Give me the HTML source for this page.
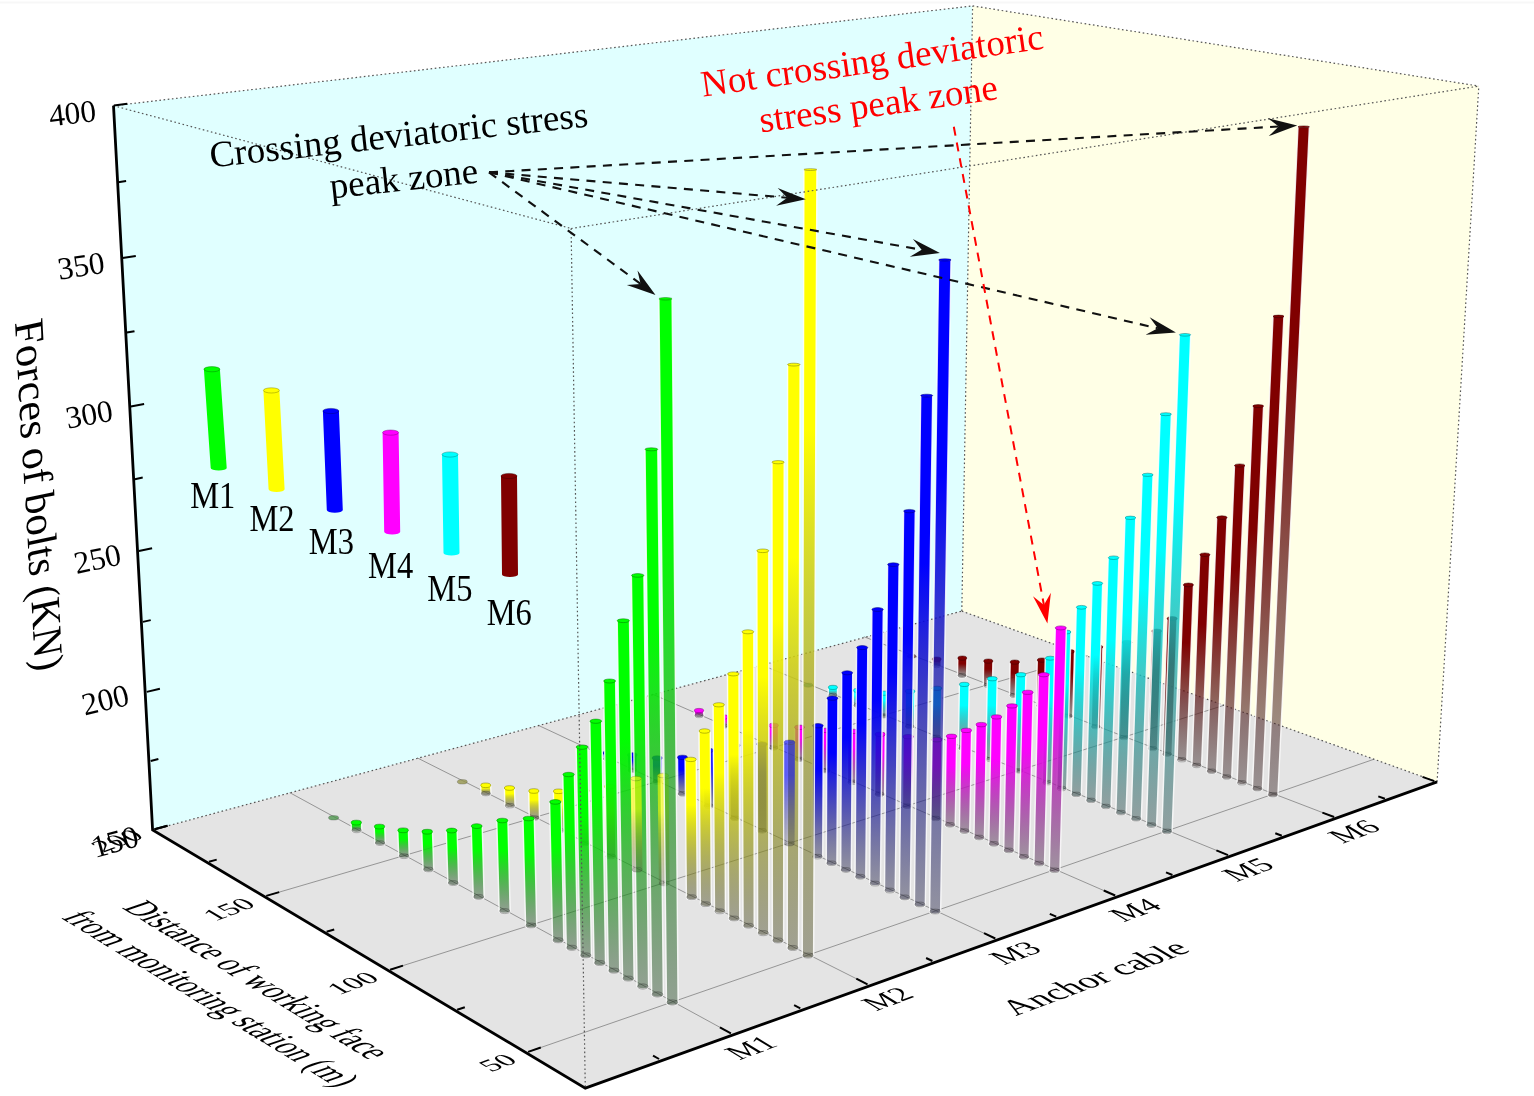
<!DOCTYPE html>
<html><head><meta charset="utf-8"><title>Forces of bolts</title>
<style>html,body{margin:0;padding:0;background:#fff}svg{display:block}text{font-family:"Liberation Serif","Times New Roman",serif}</style>
</head><body>
<svg width="1534" height="1096" viewBox="0 0 1534 1096">
<defs><linearGradient id="g1" gradientUnits="userSpaceOnUse" x1="936.7" y1="659.1" x2="936.7" y2="665.7"><stop offset="0" stop-color="#800000"/><stop offset="0.33" stop-color="#800000"/><stop offset="1" stop-color="#3e2d2d" stop-opacity="0.45"/></linearGradient>
<linearGradient id="g2" gradientUnits="userSpaceOnUse" x1="962.3" y1="658.1" x2="962" y2="675.5"><stop offset="0" stop-color="#800000"/><stop offset="0.33" stop-color="#800000"/><stop offset="1" stop-color="#3e2d2d" stop-opacity="0.45"/></linearGradient>
<linearGradient id="g3" gradientUnits="userSpaceOnUse" x1="988.3" y1="661.1" x2="987.9" y2="685.4"><stop offset="0" stop-color="#800000"/><stop offset="0.33" stop-color="#800000"/><stop offset="1" stop-color="#3e2d2d" stop-opacity="0.45"/></linearGradient>
<linearGradient id="g4" gradientUnits="userSpaceOnUse" x1="1014.8" y1="662.1" x2="1014.1" y2="695.5"><stop offset="0" stop-color="#800000"/><stop offset="0.33" stop-color="#800000"/><stop offset="1" stop-color="#3e2d2d" stop-opacity="0.45"/></linearGradient>
<linearGradient id="g5" gradientUnits="userSpaceOnUse" x1="832.9" y1="687.4" x2="832.9" y2="695.2"><stop offset="0" stop-color="#00ffff"/><stop offset="0.33" stop-color="#00ffff"/><stop offset="1" stop-color="#2d4e4e" stop-opacity="0.45"/></linearGradient>
<linearGradient id="g6" gradientUnits="userSpaceOnUse" x1="1042" y1="660.1" x2="1040.9" y2="705.7"><stop offset="0" stop-color="#800000"/><stop offset="0.33" stop-color="#800000"/><stop offset="1" stop-color="#3e2d2d" stop-opacity="0.45"/></linearGradient>
<linearGradient id="g7" gradientUnits="userSpaceOnUse" x1="858.1" y1="690.4" x2="858" y2="705.4"><stop offset="0" stop-color="#00ffff"/><stop offset="0.33" stop-color="#00ffff"/><stop offset="1" stop-color="#2d4e4e" stop-opacity="0.45"/></linearGradient>
<linearGradient id="g8" gradientUnits="userSpaceOnUse" x1="1069.8" y1="651.5" x2="1068.1" y2="716.1"><stop offset="0" stop-color="#800000"/><stop offset="0.33" stop-color="#800000"/><stop offset="1" stop-color="#3e2d2d" stop-opacity="0.45"/></linearGradient>
<linearGradient id="g9" gradientUnits="userSpaceOnUse" x1="883.8" y1="693.2" x2="883.6" y2="715.9"><stop offset="0" stop-color="#00ffff"/><stop offset="0.33" stop-color="#00ffff"/><stop offset="1" stop-color="#2d4e4e" stop-opacity="0.45"/></linearGradient>
<linearGradient id="g10" gradientUnits="userSpaceOnUse" x1="699" y1="710.5" x2="699.1" y2="715.6"><stop offset="0" stop-color="#ff00ff"/><stop offset="0.33" stop-color="#ff00ff"/><stop offset="1" stop-color="#4e2d4e" stop-opacity="0.45"/></linearGradient>
<linearGradient id="g11" gradientUnits="userSpaceOnUse" x1="1098.1" y1="646.9" x2="1095.8" y2="726.8"><stop offset="0" stop-color="#800000"/><stop offset="0.33" stop-color="#800000"/><stop offset="1" stop-color="#3e2d2d" stop-opacity="0.45"/></linearGradient>
<linearGradient id="g12" gradientUnits="userSpaceOnUse" x1="910.1" y1="691.3" x2="909.7" y2="726.5"><stop offset="0" stop-color="#00ffff"/><stop offset="0.33" stop-color="#00ffff"/><stop offset="1" stop-color="#2d4e4e" stop-opacity="0.45"/></linearGradient>
<linearGradient id="g13" gradientUnits="userSpaceOnUse" x1="723.4" y1="717" x2="723.5" y2="726.2"><stop offset="0" stop-color="#ff00ff"/><stop offset="0.33" stop-color="#ff00ff"/><stop offset="1" stop-color="#4e2d4e" stop-opacity="0.45"/></linearGradient>
<linearGradient id="g14" gradientUnits="userSpaceOnUse" x1="1127" y1="642.3" x2="1124" y2="737.6"><stop offset="0" stop-color="#800000"/><stop offset="0.33" stop-color="#800000"/><stop offset="1" stop-color="#3e2d2d" stop-opacity="0.45"/></linearGradient>
<linearGradient id="g15" gradientUnits="userSpaceOnUse" x1="936.9" y1="688.3" x2="936.2" y2="737.3"><stop offset="0" stop-color="#00ffff"/><stop offset="0.33" stop-color="#00ffff"/><stop offset="1" stop-color="#2d4e4e" stop-opacity="0.45"/></linearGradient>
<linearGradient id="g16" gradientUnits="userSpaceOnUse" x1="748.3" y1="722.7" x2="748.3" y2="737"><stop offset="0" stop-color="#ff00ff"/><stop offset="0.33" stop-color="#ff00ff"/><stop offset="1" stop-color="#4e2d4e" stop-opacity="0.45"/></linearGradient>
<linearGradient id="g17" gradientUnits="userSpaceOnUse" x1="1156.7" y1="631" x2="1152.7" y2="748.6"><stop offset="0" stop-color="#800000"/><stop offset="0.33" stop-color="#800000"/><stop offset="1" stop-color="#3e2d2d" stop-opacity="0.45"/></linearGradient>
<linearGradient id="g18" gradientUnits="userSpaceOnUse" x1="964.3" y1="684.4" x2="963.2" y2="748.3"><stop offset="0" stop-color="#00ffff"/><stop offset="0.33" stop-color="#00ffff"/><stop offset="1" stop-color="#2d4e4e" stop-opacity="0.45"/></linearGradient>
<linearGradient id="g19" gradientUnits="userSpaceOnUse" x1="773.6" y1="725.4" x2="773.6" y2="748"><stop offset="0" stop-color="#ff00ff"/><stop offset="0.33" stop-color="#ff00ff"/><stop offset="1" stop-color="#4e2d4e" stop-opacity="0.45"/></linearGradient>
<linearGradient id="g20" gradientUnits="userSpaceOnUse" x1="1172.1" y1="618.5" x2="1167.2" y2="754.2"><stop offset="0" stop-color="#800000"/><stop offset="0.33" stop-color="#800000"/><stop offset="1" stop-color="#3e2d2d" stop-opacity="0.45"/></linearGradient>
<linearGradient id="g21" gradientUnits="userSpaceOnUse" x1="1188.4" y1="584.9" x2="1181.9" y2="759.8"><stop offset="0" stop-color="#800000"/><stop offset="0.33" stop-color="#800000"/><stop offset="1" stop-color="#3e2d2d" stop-opacity="0.45"/></linearGradient>
<linearGradient id="g22" gradientUnits="userSpaceOnUse" x1="992.3" y1="678.7" x2="990.7" y2="759.5"><stop offset="0" stop-color="#00ffff"/><stop offset="0.33" stop-color="#00ffff"/><stop offset="1" stop-color="#2d4e4e" stop-opacity="0.45"/></linearGradient>
<linearGradient id="g23" gradientUnits="userSpaceOnUse" x1="799.5" y1="727.3" x2="799.4" y2="759.3"><stop offset="0" stop-color="#ff00ff"/><stop offset="0.33" stop-color="#ff00ff"/><stop offset="1" stop-color="#4e2d4e" stop-opacity="0.45"/></linearGradient>
<linearGradient id="g24" gradientUnits="userSpaceOnUse" x1="607.9" y1="752.9" x2="608" y2="759"><stop offset="0" stop-color="#0000ff"/><stop offset="0.33" stop-color="#0000ff"/><stop offset="1" stop-color="#2d2d4e" stop-opacity="0.45"/></linearGradient>
<linearGradient id="g25" gradientUnits="userSpaceOnUse" x1="1204.9" y1="554.7" x2="1196.7" y2="765.5"><stop offset="0" stop-color="#800000"/><stop offset="0.33" stop-color="#800000"/><stop offset="1" stop-color="#3e2d2d" stop-opacity="0.45"/></linearGradient>
<linearGradient id="g26" gradientUnits="userSpaceOnUse" x1="1221.9" y1="517.6" x2="1211.7" y2="771.2"><stop offset="0" stop-color="#800000"/><stop offset="0.33" stop-color="#800000"/><stop offset="1" stop-color="#3e2d2d" stop-opacity="0.45"/></linearGradient>
<linearGradient id="g27" gradientUnits="userSpaceOnUse" x1="1020.9" y1="674.7" x2="1018.7" y2="770.9"><stop offset="0" stop-color="#00ffff"/><stop offset="0.33" stop-color="#00ffff"/><stop offset="1" stop-color="#2d4e4e" stop-opacity="0.45"/></linearGradient>
<linearGradient id="g28" gradientUnits="userSpaceOnUse" x1="825.8" y1="730.4" x2="825.7" y2="770.7"><stop offset="0" stop-color="#ff00ff"/><stop offset="0.33" stop-color="#ff00ff"/><stop offset="1" stop-color="#4e2d4e" stop-opacity="0.45"/></linearGradient>
<linearGradient id="g29" gradientUnits="userSpaceOnUse" x1="632.3" y1="754.9" x2="632.5" y2="770.4"><stop offset="0" stop-color="#0000ff"/><stop offset="0.33" stop-color="#0000ff"/><stop offset="1" stop-color="#2d2d4e" stop-opacity="0.45"/></linearGradient>
<linearGradient id="g30" gradientUnits="userSpaceOnUse" x1="1239.7" y1="465.5" x2="1226.8" y2="777"><stop offset="0" stop-color="#800000"/><stop offset="0.33" stop-color="#800000"/><stop offset="1" stop-color="#3e2d2d" stop-opacity="0.45"/></linearGradient>
<linearGradient id="g31" gradientUnits="userSpaceOnUse" x1="1258.2" y1="406.1" x2="1242" y2="782.8"><stop offset="0" stop-color="#800000"/><stop offset="0.33" stop-color="#800000"/><stop offset="1" stop-color="#3e2d2d" stop-opacity="0.45"/></linearGradient>
<linearGradient id="g32" gradientUnits="userSpaceOnUse" x1="1050.4" y1="658.2" x2="1047.3" y2="782.6"><stop offset="0" stop-color="#00ffff"/><stop offset="0.33" stop-color="#00ffff"/><stop offset="1" stop-color="#2d4e4e" stop-opacity="0.45"/></linearGradient>
<linearGradient id="g33" gradientUnits="userSpaceOnUse" x1="852.7" y1="731.4" x2="852.4" y2="782.3"><stop offset="0" stop-color="#ff00ff"/><stop offset="0.33" stop-color="#ff00ff"/><stop offset="1" stop-color="#4e2d4e" stop-opacity="0.45"/></linearGradient>
<linearGradient id="g34" gradientUnits="userSpaceOnUse" x1="657.1" y1="758" x2="657.4" y2="782"><stop offset="0" stop-color="#0000ff"/><stop offset="0.33" stop-color="#0000ff"/><stop offset="1" stop-color="#2d2d4e" stop-opacity="0.45"/></linearGradient>
<linearGradient id="g35" gradientUnits="userSpaceOnUse" x1="1278.5" y1="316.4" x2="1257.4" y2="788.7"><stop offset="0" stop-color="#800000"/><stop offset="0.33" stop-color="#800000"/><stop offset="1" stop-color="#3e2d2d" stop-opacity="0.45"/></linearGradient>
<linearGradient id="g36" gradientUnits="userSpaceOnUse" x1="1065.8" y1="632" x2="1061.7" y2="788.5"><stop offset="0" stop-color="#00ffff"/><stop offset="0.33" stop-color="#00ffff"/><stop offset="1" stop-color="#2d4e4e" stop-opacity="0.45"/></linearGradient>
<linearGradient id="g37" gradientUnits="userSpaceOnUse" x1="1303.7" y1="126.8" x2="1272.9" y2="794.7"><stop offset="0" stop-color="#800000"/><stop offset="0.33" stop-color="#800000"/><stop offset="1" stop-color="#3e2d2d" stop-opacity="0.45"/></linearGradient>
<linearGradient id="g38" gradientUnits="userSpaceOnUse" x1="1081.5" y1="607.3" x2="1076.3" y2="794.4"><stop offset="0" stop-color="#00ffff"/><stop offset="0.33" stop-color="#00ffff"/><stop offset="1" stop-color="#2d4e4e" stop-opacity="0.45"/></linearGradient>
<linearGradient id="g39" gradientUnits="userSpaceOnUse" x1="880.2" y1="734.3" x2="879.6" y2="794.2"><stop offset="0" stop-color="#ff00ff"/><stop offset="0.33" stop-color="#ff00ff"/><stop offset="1" stop-color="#4e2d4e" stop-opacity="0.45"/></linearGradient>
<linearGradient id="g40" gradientUnits="userSpaceOnUse" x1="682.5" y1="757.4" x2="682.8" y2="793.9"><stop offset="0" stop-color="#0000ff"/><stop offset="0.33" stop-color="#0000ff"/><stop offset="1" stop-color="#2d2d4e" stop-opacity="0.45"/></linearGradient>
<linearGradient id="g41" gradientUnits="userSpaceOnUse" x1="485.7" y1="785.3" x2="485.9" y2="793.6"><stop offset="0" stop-color="#ffff00"/><stop offset="0.33" stop-color="#ffff00"/><stop offset="1" stop-color="#4e4e2d" stop-opacity="0.45"/></linearGradient>
<linearGradient id="g42" gradientUnits="userSpaceOnUse" x1="1097.4" y1="583.4" x2="1091.1" y2="800.4"><stop offset="0" stop-color="#00ffff"/><stop offset="0.33" stop-color="#00ffff"/><stop offset="1" stop-color="#2d4e4e" stop-opacity="0.45"/></linearGradient>
<linearGradient id="g43" gradientUnits="userSpaceOnUse" x1="1113.6" y1="557.7" x2="1106" y2="806.5"><stop offset="0" stop-color="#00ffff"/><stop offset="0.33" stop-color="#00ffff"/><stop offset="1" stop-color="#2d4e4e" stop-opacity="0.45"/></linearGradient>
<linearGradient id="g44" gradientUnits="userSpaceOnUse" x1="908.2" y1="736.7" x2="907.4" y2="806.2"><stop offset="0" stop-color="#ff00ff"/><stop offset="0.33" stop-color="#ff00ff"/><stop offset="1" stop-color="#4e2d4e" stop-opacity="0.45"/></linearGradient>
<linearGradient id="g45" gradientUnits="userSpaceOnUse" x1="708.3" y1="750.4" x2="708.7" y2="806"><stop offset="0" stop-color="#0000ff"/><stop offset="0.33" stop-color="#0000ff"/><stop offset="1" stop-color="#2d2d4e" stop-opacity="0.45"/></linearGradient>
<linearGradient id="g46" gradientUnits="userSpaceOnUse" x1="509.5" y1="788" x2="509.9" y2="805.7"><stop offset="0" stop-color="#ffff00"/><stop offset="0.33" stop-color="#ffff00"/><stop offset="1" stop-color="#4e4e2d" stop-opacity="0.45"/></linearGradient>
<linearGradient id="g47" gradientUnits="userSpaceOnUse" x1="1130.4" y1="517.8" x2="1121" y2="812.6"><stop offset="0" stop-color="#00ffff"/><stop offset="0.33" stop-color="#00ffff"/><stop offset="1" stop-color="#2d4e4e" stop-opacity="0.45"/></linearGradient>
<linearGradient id="g48" gradientUnits="userSpaceOnUse" x1="1147.7" y1="474.8" x2="1136.2" y2="818.8"><stop offset="0" stop-color="#00ffff"/><stop offset="0.33" stop-color="#00ffff"/><stop offset="1" stop-color="#2d4e4e" stop-opacity="0.45"/></linearGradient>
<linearGradient id="g49" gradientUnits="userSpaceOnUse" x1="936.8" y1="739.7" x2="935.7" y2="818.5"><stop offset="0" stop-color="#ff00ff"/><stop offset="0.33" stop-color="#ff00ff"/><stop offset="1" stop-color="#4e2d4e" stop-opacity="0.45"/></linearGradient>
<linearGradient id="g50" gradientUnits="userSpaceOnUse" x1="734.8" y1="745.4" x2="735.1" y2="818.3"><stop offset="0" stop-color="#0000ff"/><stop offset="0.33" stop-color="#0000ff"/><stop offset="1" stop-color="#2d2d4e" stop-opacity="0.45"/></linearGradient>
<linearGradient id="g51" gradientUnits="userSpaceOnUse" x1="533.8" y1="791" x2="534.4" y2="818"><stop offset="0" stop-color="#ffff00"/><stop offset="0.33" stop-color="#ffff00"/><stop offset="1" stop-color="#4e4e2d" stop-opacity="0.45"/></linearGradient>
<linearGradient id="g52" gradientUnits="userSpaceOnUse" x1="1165.8" y1="414.2" x2="1151.5" y2="825.1"><stop offset="0" stop-color="#00ffff"/><stop offset="0.33" stop-color="#00ffff"/><stop offset="1" stop-color="#2d4e4e" stop-opacity="0.45"/></linearGradient>
<linearGradient id="g53" gradientUnits="userSpaceOnUse" x1="951.5" y1="736.3" x2="950.1" y2="824.8"><stop offset="0" stop-color="#ff00ff"/><stop offset="0.33" stop-color="#ff00ff"/><stop offset="1" stop-color="#4e2d4e" stop-opacity="0.45"/></linearGradient>
<linearGradient id="g54" gradientUnits="userSpaceOnUse" x1="1185" y1="334.8" x2="1167" y2="831.4"><stop offset="0" stop-color="#00ffff"/><stop offset="0.33" stop-color="#00ffff"/><stop offset="1" stop-color="#2d4e4e" stop-opacity="0.45"/></linearGradient>
<linearGradient id="g55" gradientUnits="userSpaceOnUse" x1="966.3" y1="730.4" x2="964.5" y2="831.1"><stop offset="0" stop-color="#ff00ff"/><stop offset="0.33" stop-color="#ff00ff"/><stop offset="1" stop-color="#4e2d4e" stop-opacity="0.45"/></linearGradient>
<linearGradient id="g56" gradientUnits="userSpaceOnUse" x1="761.9" y1="744.1" x2="762" y2="830.8"><stop offset="0" stop-color="#0000ff"/><stop offset="0.33" stop-color="#0000ff"/><stop offset="1" stop-color="#2d2d4e" stop-opacity="0.45"/></linearGradient>
<linearGradient id="g57" gradientUnits="userSpaceOnUse" x1="558.6" y1="791.3" x2="559.4" y2="830.6"><stop offset="0" stop-color="#ffff00"/><stop offset="0.33" stop-color="#ffff00"/><stop offset="1" stop-color="#4e4e2d" stop-opacity="0.45"/></linearGradient>
<linearGradient id="g58" gradientUnits="userSpaceOnUse" x1="356.3" y1="822.6" x2="356.6" y2="830.3"><stop offset="0" stop-color="#00ff00"/><stop offset="0.33" stop-color="#00ff00"/><stop offset="1" stop-color="#2d4e2d" stop-opacity="0.45"/></linearGradient>
<linearGradient id="g59" gradientUnits="userSpaceOnUse" x1="981.3" y1="724.6" x2="979.2" y2="837.5"><stop offset="0" stop-color="#ff00ff"/><stop offset="0.33" stop-color="#ff00ff"/><stop offset="1" stop-color="#4e2d4e" stop-opacity="0.45"/></linearGradient>
<linearGradient id="g60" gradientUnits="userSpaceOnUse" x1="996.5" y1="716.9" x2="994" y2="843.9"><stop offset="0" stop-color="#ff00ff"/><stop offset="0.33" stop-color="#ff00ff"/><stop offset="1" stop-color="#4e2d4e" stop-opacity="0.45"/></linearGradient>
<linearGradient id="g61" gradientUnits="userSpaceOnUse" x1="583.9" y1="790.8" x2="584.8" y2="843.4"><stop offset="0" stop-color="#ffff00"/><stop offset="0.33" stop-color="#ffff00"/><stop offset="1" stop-color="#4e4e2d" stop-opacity="0.45"/></linearGradient>
<linearGradient id="g62" gradientUnits="userSpaceOnUse" x1="379.5" y1="826.6" x2="380.1" y2="843.1"><stop offset="0" stop-color="#00ff00"/><stop offset="0.33" stop-color="#00ff00"/><stop offset="1" stop-color="#2d4e2d" stop-opacity="0.45"/></linearGradient>
<linearGradient id="g63" gradientUnits="userSpaceOnUse" x1="1012" y1="705.9" x2="1008.9" y2="850.4"><stop offset="0" stop-color="#ff00ff"/><stop offset="0.33" stop-color="#ff00ff"/><stop offset="1" stop-color="#4e2d4e" stop-opacity="0.45"/></linearGradient>
<linearGradient id="g64" gradientUnits="userSpaceOnUse" x1="1027.7" y1="692.3" x2="1024" y2="856.9"><stop offset="0" stop-color="#ff00ff"/><stop offset="0.33" stop-color="#ff00ff"/><stop offset="1" stop-color="#4e2d4e" stop-opacity="0.45"/></linearGradient>
<linearGradient id="g65" gradientUnits="userSpaceOnUse" x1="817.9" y1="725.7" x2="817.4" y2="856.7"><stop offset="0" stop-color="#0000ff"/><stop offset="0.33" stop-color="#0000ff"/><stop offset="1" stop-color="#2d2d4e" stop-opacity="0.45"/></linearGradient>
<linearGradient id="g66" gradientUnits="userSpaceOnUse" x1="609.7" y1="786.6" x2="610.8" y2="856.4"><stop offset="0" stop-color="#ffff00"/><stop offset="0.33" stop-color="#ffff00"/><stop offset="1" stop-color="#4e4e2d" stop-opacity="0.45"/></linearGradient>
<linearGradient id="g67" gradientUnits="userSpaceOnUse" x1="403.1" y1="830.3" x2="404" y2="856.2"><stop offset="0" stop-color="#00ff00"/><stop offset="0.33" stop-color="#00ff00"/><stop offset="1" stop-color="#2d4e2d" stop-opacity="0.45"/></linearGradient>
<linearGradient id="g68" gradientUnits="userSpaceOnUse" x1="1043.8" y1="674.7" x2="1039.2" y2="863.6"><stop offset="0" stop-color="#ff00ff"/><stop offset="0.33" stop-color="#ff00ff"/><stop offset="1" stop-color="#4e2d4e" stop-opacity="0.45"/></linearGradient>
<linearGradient id="g69" gradientUnits="userSpaceOnUse" x1="832.4" y1="698.2" x2="831.6" y2="863.3"><stop offset="0" stop-color="#0000ff"/><stop offset="0.33" stop-color="#0000ff"/><stop offset="1" stop-color="#2d2d4e" stop-opacity="0.45"/></linearGradient>
<linearGradient id="g70" gradientUnits="userSpaceOnUse" x1="1060.8" y1="627.9" x2="1054.6" y2="870.3"><stop offset="0" stop-color="#ff00ff"/><stop offset="0.33" stop-color="#ff00ff"/><stop offset="1" stop-color="#4e2d4e" stop-opacity="0.45"/></linearGradient>
<linearGradient id="g71" gradientUnits="userSpaceOnUse" x1="847.2" y1="672.8" x2="846" y2="870"><stop offset="0" stop-color="#0000ff"/><stop offset="0.33" stop-color="#0000ff"/><stop offset="1" stop-color="#2d2d4e" stop-opacity="0.45"/></linearGradient>
<linearGradient id="g72" gradientUnits="userSpaceOnUse" x1="427.2" y1="831.7" x2="428.4" y2="869.5"><stop offset="0" stop-color="#00ff00"/><stop offset="0.33" stop-color="#00ff00"/><stop offset="1" stop-color="#2d4e2d" stop-opacity="0.45"/></linearGradient>
<linearGradient id="g73" gradientUnits="userSpaceOnUse" x1="862.2" y1="647.6" x2="860.4" y2="876.8"><stop offset="0" stop-color="#0000ff"/><stop offset="0.33" stop-color="#0000ff"/><stop offset="1" stop-color="#2d2d4e" stop-opacity="0.45"/></linearGradient>
<linearGradient id="g74" gradientUnits="userSpaceOnUse" x1="877.6" y1="609.5" x2="875.1" y2="883.6"><stop offset="0" stop-color="#0000ff"/><stop offset="0.33" stop-color="#0000ff"/><stop offset="1" stop-color="#2d2d4e" stop-opacity="0.45"/></linearGradient>
<linearGradient id="g75" gradientUnits="userSpaceOnUse" x1="451.7" y1="830.5" x2="453.3" y2="883.1"><stop offset="0" stop-color="#00ff00"/><stop offset="0.33" stop-color="#00ff00"/><stop offset="1" stop-color="#2d4e2d" stop-opacity="0.45"/></linearGradient>
<linearGradient id="g76" gradientUnits="userSpaceOnUse" x1="893.3" y1="564.6" x2="889.9" y2="890.5"><stop offset="0" stop-color="#0000ff"/><stop offset="0.33" stop-color="#0000ff"/><stop offset="1" stop-color="#2d2d4e" stop-opacity="0.45"/></linearGradient>
<linearGradient id="g77" gradientUnits="userSpaceOnUse" x1="909.4" y1="511.1" x2="904.8" y2="897.4"><stop offset="0" stop-color="#0000ff"/><stop offset="0.33" stop-color="#0000ff"/><stop offset="1" stop-color="#2d2d4e" stop-opacity="0.45"/></linearGradient>
<linearGradient id="g78" gradientUnits="userSpaceOnUse" x1="690.7" y1="759.4" x2="691.8" y2="897.2"><stop offset="0" stop-color="#ffff00"/><stop offset="0.33" stop-color="#ffff00"/><stop offset="1" stop-color="#4e4e2d" stop-opacity="0.45"/></linearGradient>
<linearGradient id="g79" gradientUnits="userSpaceOnUse" x1="476.7" y1="826.1" x2="478.7" y2="896.9"><stop offset="0" stop-color="#00ff00"/><stop offset="0.33" stop-color="#00ff00"/><stop offset="1" stop-color="#2d4e2d" stop-opacity="0.45"/></linearGradient>
<linearGradient id="g80" gradientUnits="userSpaceOnUse" x1="926.7" y1="395.6" x2="919.9" y2="904.5"><stop offset="0" stop-color="#0000ff"/><stop offset="0.33" stop-color="#0000ff"/><stop offset="1" stop-color="#2d2d4e" stop-opacity="0.45"/></linearGradient>
<linearGradient id="g81" gradientUnits="userSpaceOnUse" x1="704.6" y1="731" x2="705.8" y2="904.2"><stop offset="0" stop-color="#ffff00"/><stop offset="0.33" stop-color="#ffff00"/><stop offset="1" stop-color="#4e4e2d" stop-opacity="0.45"/></linearGradient>
<linearGradient id="g82" gradientUnits="userSpaceOnUse" x1="944.9" y1="259.9" x2="935.1" y2="911.6"><stop offset="0" stop-color="#0000ff"/><stop offset="0.33" stop-color="#0000ff"/><stop offset="1" stop-color="#2d2d4e" stop-opacity="0.45"/></linearGradient>
<linearGradient id="g83" gradientUnits="userSpaceOnUse" x1="718.8" y1="704.8" x2="719.9" y2="911.3"><stop offset="0" stop-color="#ffff00"/><stop offset="0.33" stop-color="#ffff00"/><stop offset="1" stop-color="#4e4e2d" stop-opacity="0.45"/></linearGradient>
<linearGradient id="g84" gradientUnits="userSpaceOnUse" x1="502.3" y1="820.5" x2="504.7" y2="911.1"><stop offset="0" stop-color="#00ff00"/><stop offset="0.33" stop-color="#00ff00"/><stop offset="1" stop-color="#2d4e2d" stop-opacity="0.45"/></linearGradient>
<linearGradient id="g85" gradientUnits="userSpaceOnUse" x1="733.3" y1="673.9" x2="734.2" y2="918.5"><stop offset="0" stop-color="#ffff00"/><stop offset="0.33" stop-color="#ffff00"/><stop offset="1" stop-color="#4e4e2d" stop-opacity="0.45"/></linearGradient>
<linearGradient id="g86" gradientUnits="userSpaceOnUse" x1="747.9" y1="631.8" x2="748.7" y2="925.8"><stop offset="0" stop-color="#ffff00"/><stop offset="0.33" stop-color="#ffff00"/><stop offset="1" stop-color="#4e4e2d" stop-opacity="0.45"/></linearGradient>
<linearGradient id="g87" gradientUnits="userSpaceOnUse" x1="528.7" y1="818.5" x2="531.1" y2="925.5"><stop offset="0" stop-color="#00ff00"/><stop offset="0.33" stop-color="#00ff00"/><stop offset="1" stop-color="#2d4e2d" stop-opacity="0.45"/></linearGradient>
<linearGradient id="g88" gradientUnits="userSpaceOnUse" x1="762.8" y1="550.8" x2="763.3" y2="933.1"><stop offset="0" stop-color="#ffff00"/><stop offset="0.33" stop-color="#ffff00"/><stop offset="1" stop-color="#4e4e2d" stop-opacity="0.45"/></linearGradient>
<linearGradient id="g89" gradientUnits="userSpaceOnUse" x1="778.1" y1="462.2" x2="778" y2="940.5"><stop offset="0" stop-color="#ffff00"/><stop offset="0.33" stop-color="#ffff00"/><stop offset="1" stop-color="#4e4e2d" stop-opacity="0.45"/></linearGradient>
<linearGradient id="g90" gradientUnits="userSpaceOnUse" x1="555.3" y1="801.9" x2="558.2" y2="940.3"><stop offset="0" stop-color="#00ff00"/><stop offset="0.33" stop-color="#00ff00"/><stop offset="1" stop-color="#2d4e2d" stop-opacity="0.45"/></linearGradient>
<linearGradient id="g91" gradientUnits="userSpaceOnUse" x1="793.8" y1="364.6" x2="792.9" y2="948"><stop offset="0" stop-color="#ffff00"/><stop offset="0.33" stop-color="#ffff00"/><stop offset="1" stop-color="#4e4e2d" stop-opacity="0.45"/></linearGradient>
<linearGradient id="g92" gradientUnits="userSpaceOnUse" x1="568.6" y1="774.5" x2="571.9" y2="947.8"><stop offset="0" stop-color="#00ff00"/><stop offset="0.33" stop-color="#00ff00"/><stop offset="1" stop-color="#2d4e2d" stop-opacity="0.45"/></linearGradient>
<linearGradient id="g93" gradientUnits="userSpaceOnUse" x1="789.5" y1="742.3" x2="789.4" y2="843.6"><stop offset="0" stop-color="#0000ff"/><stop offset="0.33" stop-color="#0000ff"/><stop offset="1" stop-color="#2d2d4e" stop-opacity="0.45"/></linearGradient>
<linearGradient id="g94" gradientUnits="userSpaceOnUse" x1="810.4" y1="169.6" x2="808" y2="955.6"><stop offset="0" stop-color="#ffff00"/><stop offset="0.33" stop-color="#ffff00"/><stop offset="1" stop-color="#4e4e2d" stop-opacity="0.45"/></linearGradient>
<linearGradient id="g95" gradientUnits="userSpaceOnUse" x1="582" y1="747.1" x2="585.8" y2="955.4"><stop offset="0" stop-color="#00ff00"/><stop offset="0.33" stop-color="#00ff00"/><stop offset="1" stop-color="#2d4e2d" stop-opacity="0.45"/></linearGradient>
<linearGradient id="g96" gradientUnits="userSpaceOnUse" x1="595.8" y1="721.2" x2="599.8" y2="963"><stop offset="0" stop-color="#00ff00"/><stop offset="0.33" stop-color="#00ff00"/><stop offset="1" stop-color="#2d4e2d" stop-opacity="0.45"/></linearGradient>
<linearGradient id="g97" gradientUnits="userSpaceOnUse" x1="609.6" y1="681" x2="614" y2="970.7"><stop offset="0" stop-color="#00ff00"/><stop offset="0.33" stop-color="#00ff00"/><stop offset="1" stop-color="#2d4e2d" stop-opacity="0.45"/></linearGradient>
<linearGradient id="g98" gradientUnits="userSpaceOnUse" x1="623.3" y1="620.7" x2="628.3" y2="978.6"><stop offset="0" stop-color="#00ff00"/><stop offset="0.33" stop-color="#00ff00"/><stop offset="1" stop-color="#2d4e2d" stop-opacity="0.45"/></linearGradient>
<linearGradient id="g99" gradientUnits="userSpaceOnUse" x1="637.7" y1="575.4" x2="642.8" y2="986.5"><stop offset="0" stop-color="#00ff00"/><stop offset="0.33" stop-color="#00ff00"/><stop offset="1" stop-color="#2d4e2d" stop-opacity="0.45"/></linearGradient>
<linearGradient id="g100" gradientUnits="userSpaceOnUse" x1="636" y1="778.5" x2="637.2" y2="869.7"><stop offset="0" stop-color="#ffff00"/><stop offset="0.33" stop-color="#ffff00"/><stop offset="1" stop-color="#4e4e2d" stop-opacity="0.45"/></linearGradient>
<linearGradient id="g101" gradientUnits="userSpaceOnUse" x1="651.4" y1="449.3" x2="657.5" y2="994.5"><stop offset="0" stop-color="#00ff00"/><stop offset="0.33" stop-color="#00ff00"/><stop offset="1" stop-color="#2d4e2d" stop-opacity="0.45"/></linearGradient>
<linearGradient id="g102" gradientUnits="userSpaceOnUse" x1="663.1" y1="775.5" x2="664.2" y2="883.3"><stop offset="0" stop-color="#ffff00"/><stop offset="0.33" stop-color="#ffff00"/><stop offset="1" stop-color="#4e4e2d" stop-opacity="0.45"/></linearGradient>
<linearGradient id="g103" gradientUnits="userSpaceOnUse" x1="665.5" y1="298.8" x2="672.3" y2="1002.5"><stop offset="0" stop-color="#00ff00"/><stop offset="0.33" stop-color="#00ff00"/><stop offset="1" stop-color="#2d4e2d" stop-opacity="0.45"/></linearGradient></defs>
<rect x="0" y="1.5" width="1534" height="2" fill="#f7f7f7"/>
<polygon points="152.6,830 113.5,105.7 972.6,5.9 961.8,611.1" fill="#e0ffff"/>
<polygon points="961.8,611.1 972.6,5.9 1478.8,86.1 1437.1,781.9" fill="#ffffe6"/>
<polygon points="152.6,830 961.8,611.1 1437.1,781.9 585.3,1088.1" fill="#e4e4e4"/>
<g stroke="#444" stroke-width="0.9" stroke-opacity="0.55">
<line x1="730.9" y1="1033.3" x2="289.7" y2="792.6"/>
<line x1="867.5" y1="984.3" x2="417.3" y2="757.9"/>
<line x1="995.3" y1="938.5" x2="538" y2="725.2"/>
<line x1="1115.2" y1="895.5" x2="652.3" y2="694.1"/>
<line x1="1228" y1="855.1" x2="760.8" y2="664.7"/>
<line x1="1334.1" y1="817" x2="863.8" y2="636.7"/>
<line x1="528.1" y1="1051.9" x2="1373.8" y2="759.3"/>
<line x1="390.1" y1="969.7" x2="1224.4" y2="705.2"/>
<line x1="266.3" y1="895.9" x2="1087.6" y2="655.6"/>
</g>
<line x1="152.6" y1="830" x2="961.8" y2="611.1" stroke="#555" stroke-width="1.2" stroke-dasharray="1.6 2.6" fill="none"/>
<line x1="961.8" y1="611.1" x2="1437.1" y2="781.9" stroke="#555" stroke-width="1.2" stroke-dasharray="1.6 2.6" fill="none"/>
<line x1="961.8" y1="611.1" x2="972.6" y2="5.9" stroke="#555" stroke-width="1.2" stroke-dasharray="1.6 2.6" fill="none"/>
<line x1="113.5" y1="105.7" x2="972.6" y2="5.9" stroke="#555" stroke-width="1.2" stroke-dasharray="1.6 2.6" fill="none"/>
<line x1="972.6" y1="5.9" x2="1478.8" y2="86.1" stroke="#555" stroke-width="1.2" stroke-dasharray="1.6 2.6" fill="none"/>
<line x1="1437.1" y1="781.9" x2="1478.8" y2="86.1" stroke="#555" stroke-width="1.2" stroke-dasharray="1.6 2.6" fill="none"/>
<ellipse cx="911.7" cy="656.2" rx="4.5" ry="2" fill="#6c4646" fill-opacity="0.75" stroke="#333" stroke-opacity="0.4" stroke-width="0.6"/>
<path d="M932.2 659.1 L941.2 659.1 L941.1 665.7 A4.5 2.1 0 0 1 932.2 665.7 Z" fill="url(#g1)" stroke="#fff" stroke-opacity="0.85" stroke-width="1.4"/>
<ellipse cx="936.7" cy="665.7" rx="4" ry="2.1" fill="#000" fill-opacity="0.12" stroke="#222" stroke-opacity="0.45" stroke-width="0.7"/>
<ellipse cx="936.7" cy="659.1" rx="4.5" ry="2.1" fill="#800000" stroke="#3a0000" stroke-opacity="0.7" stroke-width="0.7"/>
<path d="M957.8 658.1 L966.9 658.1 L966.6 675.5 A4.5 2.1 0 0 1 957.5 675.5 Z" fill="url(#g2)" stroke="#fff" stroke-opacity="0.85" stroke-width="1.4"/>
<ellipse cx="962" cy="675.5" rx="4" ry="2.1" fill="#000" fill-opacity="0.12" stroke="#222" stroke-opacity="0.45" stroke-width="0.7"/>
<ellipse cx="962.3" cy="658.1" rx="4.5" ry="2.1" fill="#800000" stroke="#3a0000" stroke-opacity="0.7" stroke-width="0.7"/>
<path d="M983.7 661.1 L992.9 661.1 L992.4 685.4 A4.6 2.1 0 0 1 983.3 685.4 Z" fill="url(#g3)" stroke="#fff" stroke-opacity="0.85" stroke-width="1.4"/>
<ellipse cx="987.9" cy="685.4" rx="4.1" ry="2.1" fill="#000" fill-opacity="0.12" stroke="#222" stroke-opacity="0.45" stroke-width="0.7"/>
<ellipse cx="988.3" cy="661.1" rx="4.6" ry="2.1" fill="#800000" stroke="#3a0000" stroke-opacity="0.7" stroke-width="0.7"/>
<ellipse cx="808.2" cy="685.1" rx="4.6" ry="2.1" fill="#469292" fill-opacity="0.75" stroke="#333" stroke-opacity="0.4" stroke-width="0.6"/>
<path d="M1010.2 662.1 L1019.5 662.1 L1018.7 695.5 A4.6 2.1 0 0 1 1009.5 695.5 Z" fill="url(#g4)" stroke="#fff" stroke-opacity="0.85" stroke-width="1.4"/>
<ellipse cx="1014.1" cy="695.5" rx="4.1" ry="2.1" fill="#000" fill-opacity="0.12" stroke="#222" stroke-opacity="0.45" stroke-width="0.7"/>
<ellipse cx="1014.8" cy="662.1" rx="4.6" ry="2.1" fill="#800000" stroke="#3a0000" stroke-opacity="0.7" stroke-width="0.7"/>
<path d="M828.3 687.4 L837.5 687.4 L837.5 695.2 A4.6 2.1 0 0 1 828.3 695.2 Z" fill="url(#g5)" stroke="#fff" stroke-opacity="0.85" stroke-width="1.4"/>
<ellipse cx="832.9" cy="695.2" rx="4.1" ry="2.1" fill="#000" fill-opacity="0.12" stroke="#222" stroke-opacity="0.45" stroke-width="0.7"/>
<ellipse cx="832.9" cy="687.4" rx="4.6" ry="2.1" fill="#00ffff" stroke="#007373" stroke-opacity="0.7" stroke-width="0.7"/>
<path d="M1037.3 660.1 L1046.7 660.1 L1045.5 705.7 A4.6 2.1 0 0 1 1036.2 705.7 Z" fill="url(#g6)" stroke="#fff" stroke-opacity="0.85" stroke-width="1.4"/>
<ellipse cx="1040.9" cy="705.7" rx="4.1" ry="2.1" fill="#000" fill-opacity="0.12" stroke="#222" stroke-opacity="0.45" stroke-width="0.7"/>
<ellipse cx="1042" cy="660.1" rx="4.7" ry="2.1" fill="#800000" stroke="#3a0000" stroke-opacity="0.7" stroke-width="0.7"/>
<path d="M853.5 690.4 L862.8 690.4 L862.7 705.4 A4.6 2.1 0 0 1 853.4 705.4 Z" fill="url(#g7)" stroke="#fff" stroke-opacity="0.85" stroke-width="1.4"/>
<ellipse cx="858" cy="705.4" rx="4.1" ry="2.1" fill="#000" fill-opacity="0.12" stroke="#222" stroke-opacity="0.45" stroke-width="0.7"/>
<ellipse cx="858.1" cy="690.4" rx="4.7" ry="2.1" fill="#00ffff" stroke="#007373" stroke-opacity="0.7" stroke-width="0.7"/>
<path d="M1065 651.5 L1074.5 651.5 L1072.8 716.1 A4.7 2.2 0 0 1 1063.4 716.1 Z" fill="url(#g8)" stroke="#fff" stroke-opacity="0.85" stroke-width="1.4"/>
<ellipse cx="1068.1" cy="716.1" rx="4.2" ry="2.2" fill="#000" fill-opacity="0.12" stroke="#222" stroke-opacity="0.45" stroke-width="0.7"/>
<ellipse cx="1069.8" cy="651.5" rx="4.8" ry="2" fill="#800000" stroke="#3a0000" stroke-opacity="0.7" stroke-width="0.7"/>
<path d="M879.1 693.2 L888.6 693.2 L888.3 715.9 A4.7 2.2 0 0 1 878.9 715.9 Z" fill="url(#g9)" stroke="#fff" stroke-opacity="0.85" stroke-width="1.4"/>
<ellipse cx="883.6" cy="715.9" rx="4.2" ry="2.2" fill="#000" fill-opacity="0.12" stroke="#222" stroke-opacity="0.45" stroke-width="0.7"/>
<ellipse cx="883.8" cy="693.2" rx="4.7" ry="2.1" fill="#00ffff" stroke="#007373" stroke-opacity="0.7" stroke-width="0.7"/>
<path d="M694.3 710.5 L703.7 710.5 L703.8 715.6 A4.7 2.2 0 0 1 694.4 715.6 Z" fill="url(#g10)" stroke="#fff" stroke-opacity="0.85" stroke-width="1.4"/>
<ellipse cx="699.1" cy="715.6" rx="4.2" ry="2.2" fill="#000" fill-opacity="0.12" stroke="#222" stroke-opacity="0.45" stroke-width="0.7"/>
<ellipse cx="699" cy="710.5" rx="4.7" ry="2.1" fill="#ff00ff" stroke="#730073" stroke-opacity="0.7" stroke-width="0.7"/>
<path d="M1093.3 646.9 L1102.9 646.9 L1100.5 726.8 A4.7 2.2 0 0 1 1091.1 726.8 Z" fill="url(#g11)" stroke="#fff" stroke-opacity="0.85" stroke-width="1.4"/>
<ellipse cx="1095.8" cy="726.8" rx="4.2" ry="2.2" fill="#000" fill-opacity="0.12" stroke="#222" stroke-opacity="0.45" stroke-width="0.7"/>
<ellipse cx="1098.1" cy="646.9" rx="4.8" ry="2" fill="#800000" stroke="#3a0000" stroke-opacity="0.7" stroke-width="0.7"/>
<path d="M905.3 691.3 L914.9 691.3 L914.4 726.5 A4.7 2.2 0 0 1 904.9 726.5 Z" fill="url(#g12)" stroke="#fff" stroke-opacity="0.85" stroke-width="1.4"/>
<ellipse cx="909.7" cy="726.5" rx="4.2" ry="2.2" fill="#000" fill-opacity="0.12" stroke="#222" stroke-opacity="0.45" stroke-width="0.7"/>
<ellipse cx="910.1" cy="691.3" rx="4.8" ry="2.1" fill="#00ffff" stroke="#007373" stroke-opacity="0.7" stroke-width="0.7"/>
<path d="M718.7 717 L728.2 717 L728.2 726.2 A4.7 2.2 0 0 1 718.8 726.2 Z" fill="url(#g13)" stroke="#fff" stroke-opacity="0.85" stroke-width="1.4"/>
<ellipse cx="723.5" cy="726.2" rx="4.2" ry="2.2" fill="#000" fill-opacity="0.12" stroke="#222" stroke-opacity="0.45" stroke-width="0.7"/>
<ellipse cx="723.4" cy="717" rx="4.7" ry="2.2" fill="#ff00ff" stroke="#730073" stroke-opacity="0.7" stroke-width="0.7"/>
<path d="M1122.1 642.3 L1131.9 642.3 L1128.8 737.6 A4.8 2.2 0 0 1 1119.2 737.6 Z" fill="url(#g14)" stroke="#fff" stroke-opacity="0.85" stroke-width="1.4"/>
<ellipse cx="1124" cy="737.6" rx="4.3" ry="2.2" fill="#000" fill-opacity="0.12" stroke="#222" stroke-opacity="0.45" stroke-width="0.7"/>
<ellipse cx="1127" cy="642.3" rx="4.9" ry="2" fill="#800000" stroke="#3a0000" stroke-opacity="0.7" stroke-width="0.7"/>
<path d="M932.1 688.3 L941.7 688.3 L941 737.3 A4.8 2.2 0 0 1 931.4 737.3 Z" fill="url(#g15)" stroke="#fff" stroke-opacity="0.85" stroke-width="1.4"/>
<ellipse cx="936.2" cy="737.3" rx="4.3" ry="2.2" fill="#000" fill-opacity="0.12" stroke="#222" stroke-opacity="0.45" stroke-width="0.7"/>
<ellipse cx="936.9" cy="688.3" rx="4.8" ry="2.1" fill="#00ffff" stroke="#007373" stroke-opacity="0.7" stroke-width="0.7"/>
<path d="M743.5 722.7 L753.1 722.7 L753.1 737 A4.8 2.2 0 0 1 743.6 737 Z" fill="url(#g16)" stroke="#fff" stroke-opacity="0.85" stroke-width="1.4"/>
<ellipse cx="748.3" cy="737" rx="4.3" ry="2.2" fill="#000" fill-opacity="0.12" stroke="#222" stroke-opacity="0.45" stroke-width="0.7"/>
<ellipse cx="748.3" cy="722.7" rx="4.8" ry="2.2" fill="#ff00ff" stroke="#730073" stroke-opacity="0.7" stroke-width="0.7"/>
<path d="M1151.8 631 L1161.7 631 L1157.5 748.6 A4.8 2.2 0 0 1 1147.9 748.6 Z" fill="url(#g17)" stroke="#fff" stroke-opacity="0.85" stroke-width="1.4"/>
<ellipse cx="1152.7" cy="748.6" rx="4.3" ry="2.2" fill="#000" fill-opacity="0.12" stroke="#222" stroke-opacity="0.45" stroke-width="0.7"/>
<ellipse cx="1156.7" cy="631" rx="4.9" ry="2" fill="#800000" stroke="#3a0000" stroke-opacity="0.7" stroke-width="0.7"/>
<path d="M959.4 684.4 L969.2 684.4 L968 748.3 A4.8 2.2 0 0 1 958.4 748.3 Z" fill="url(#g18)" stroke="#fff" stroke-opacity="0.85" stroke-width="1.4"/>
<ellipse cx="963.2" cy="748.3" rx="4.3" ry="2.2" fill="#000" fill-opacity="0.12" stroke="#222" stroke-opacity="0.45" stroke-width="0.7"/>
<ellipse cx="964.3" cy="684.4" rx="4.9" ry="2.1" fill="#00ffff" stroke="#007373" stroke-opacity="0.7" stroke-width="0.7"/>
<path d="M768.8 725.4 L778.5 725.4 L778.5 748 A4.8 2.2 0 0 1 768.8 748 Z" fill="url(#g19)" stroke="#fff" stroke-opacity="0.85" stroke-width="1.4"/>
<ellipse cx="773.6" cy="748" rx="4.3" ry="2.2" fill="#000" fill-opacity="0.12" stroke="#222" stroke-opacity="0.45" stroke-width="0.7"/>
<ellipse cx="773.6" cy="725.4" rx="4.8" ry="2.2" fill="#ff00ff" stroke="#730073" stroke-opacity="0.7" stroke-width="0.7"/>
<ellipse cx="584" cy="747.8" rx="4.8" ry="2.2" fill="#464692" fill-opacity="0.75" stroke="#333" stroke-opacity="0.4" stroke-width="0.6"/>
<path d="M1167.1 618.5 L1177.1 618.5 L1172.1 754.2 A4.8 2.2 0 0 1 1162.4 754.2 Z" fill="url(#g20)" stroke="#fff" stroke-opacity="0.85" stroke-width="1.4"/>
<ellipse cx="1167.2" cy="754.2" rx="4.3" ry="2.2" fill="#000" fill-opacity="0.12" stroke="#222" stroke-opacity="0.45" stroke-width="0.7"/>
<ellipse cx="1172.1" cy="618.5" rx="5" ry="2" fill="#800000" stroke="#3a0000" stroke-opacity="0.7" stroke-width="0.7"/>
<path d="M1183.4 584.9 L1193.5 584.9 L1186.8 759.8 A4.9 2.2 0 0 1 1177.1 759.8 Z" fill="url(#g21)" stroke="#fff" stroke-opacity="0.85" stroke-width="1.4"/>
<ellipse cx="1181.9" cy="759.8" rx="4.4" ry="2.2" fill="#000" fill-opacity="0.12" stroke="#222" stroke-opacity="0.45" stroke-width="0.7"/>
<ellipse cx="1188.4" cy="584.9" rx="5.1" ry="1.9" fill="#800000" stroke="#3a0000" stroke-opacity="0.7" stroke-width="0.7"/>
<path d="M987.3 678.7 L997.2 678.7 L995.6 759.5 A4.9 2.2 0 0 1 985.9 759.5 Z" fill="url(#g22)" stroke="#fff" stroke-opacity="0.85" stroke-width="1.4"/>
<ellipse cx="990.7" cy="759.5" rx="4.4" ry="2.2" fill="#000" fill-opacity="0.12" stroke="#222" stroke-opacity="0.45" stroke-width="0.7"/>
<ellipse cx="992.3" cy="678.7" rx="5" ry="2.1" fill="#00ffff" stroke="#007373" stroke-opacity="0.7" stroke-width="0.7"/>
<path d="M794.6 727.3 L804.4 727.3 L804.3 759.3 A4.9 2.2 0 0 1 794.5 759.3 Z" fill="url(#g23)" stroke="#fff" stroke-opacity="0.85" stroke-width="1.4"/>
<ellipse cx="799.4" cy="759.3" rx="4.4" ry="2.2" fill="#000" fill-opacity="0.12" stroke="#222" stroke-opacity="0.45" stroke-width="0.7"/>
<ellipse cx="799.5" cy="727.3" rx="4.9" ry="2.2" fill="#ff00ff" stroke="#730073" stroke-opacity="0.7" stroke-width="0.7"/>
<path d="M603 752.9 L612.8 752.9 L612.9 759 A4.9 2.2 0 0 1 603.1 759 Z" fill="url(#g24)" stroke="#fff" stroke-opacity="0.85" stroke-width="1.4"/>
<ellipse cx="608" cy="759" rx="4.4" ry="2.2" fill="#000" fill-opacity="0.12" stroke="#222" stroke-opacity="0.45" stroke-width="0.7"/>
<ellipse cx="607.9" cy="752.9" rx="4.9" ry="2.2" fill="#0000ff" stroke="#000073" stroke-opacity="0.7" stroke-width="0.7"/>
<path d="M1199.8 554.7 L1210 554.7 L1201.6 765.5 A4.9 2.2 0 0 1 1191.9 765.5 Z" fill="url(#g25)" stroke="#fff" stroke-opacity="0.85" stroke-width="1.4"/>
<ellipse cx="1196.7" cy="765.5" rx="4.4" ry="2.2" fill="#000" fill-opacity="0.12" stroke="#222" stroke-opacity="0.45" stroke-width="0.7"/>
<ellipse cx="1204.9" cy="554.7" rx="5.1" ry="1.8" fill="#800000" stroke="#3a0000" stroke-opacity="0.7" stroke-width="0.7"/>
<path d="M1216.7 517.6 L1227.1 517.6 L1216.6 771.2 A4.9 2.3 0 0 1 1206.8 771.2 Z" fill="url(#g26)" stroke="#fff" stroke-opacity="0.85" stroke-width="1.4"/>
<ellipse cx="1211.7" cy="771.2" rx="4.4" ry="2.3" fill="#000" fill-opacity="0.12" stroke="#222" stroke-opacity="0.45" stroke-width="0.7"/>
<ellipse cx="1221.9" cy="517.6" rx="5.2" ry="1.8" fill="#800000" stroke="#3a0000" stroke-opacity="0.7" stroke-width="0.7"/>
<path d="M1015.8 674.7 L1025.9 674.7 L1023.6 770.9 A4.9 2.3 0 0 1 1013.8 770.9 Z" fill="url(#g27)" stroke="#fff" stroke-opacity="0.85" stroke-width="1.4"/>
<ellipse cx="1018.7" cy="770.9" rx="4.4" ry="2.3" fill="#000" fill-opacity="0.12" stroke="#222" stroke-opacity="0.45" stroke-width="0.7"/>
<ellipse cx="1020.9" cy="674.7" rx="5" ry="2.1" fill="#00ffff" stroke="#007373" stroke-opacity="0.7" stroke-width="0.7"/>
<path d="M820.9 730.4 L830.8 730.4 L830.6 770.7 A4.9 2.3 0 0 1 820.7 770.7 Z" fill="url(#g28)" stroke="#fff" stroke-opacity="0.85" stroke-width="1.4"/>
<ellipse cx="825.7" cy="770.7" rx="4.4" ry="2.3" fill="#000" fill-opacity="0.12" stroke="#222" stroke-opacity="0.45" stroke-width="0.7"/>
<ellipse cx="825.8" cy="730.4" rx="5" ry="2.2" fill="#ff00ff" stroke="#730073" stroke-opacity="0.7" stroke-width="0.7"/>
<path d="M627.3 754.9 L637.2 754.9 L637.4 770.4 A4.9 2.3 0 0 1 627.6 770.4 Z" fill="url(#g29)" stroke="#fff" stroke-opacity="0.85" stroke-width="1.4"/>
<ellipse cx="632.5" cy="770.4" rx="4.4" ry="2.3" fill="#000" fill-opacity="0.12" stroke="#222" stroke-opacity="0.45" stroke-width="0.7"/>
<ellipse cx="632.3" cy="754.9" rx="4.9" ry="2.2" fill="#0000ff" stroke="#000073" stroke-opacity="0.7" stroke-width="0.7"/>
<path d="M1234.5 465.5 L1245 465.5 L1231.7 777 A4.9 2.3 0 0 1 1221.9 777 Z" fill="url(#g30)" stroke="#fff" stroke-opacity="0.85" stroke-width="1.4"/>
<ellipse cx="1226.8" cy="777" rx="4.4" ry="2.3" fill="#000" fill-opacity="0.12" stroke="#222" stroke-opacity="0.45" stroke-width="0.7"/>
<ellipse cx="1239.7" cy="465.5" rx="5.3" ry="1.6" fill="#800000" stroke="#3a0000" stroke-opacity="0.7" stroke-width="0.7"/>
<path d="M1252.9 406.1 L1263.6 406.1 L1247 782.8 A5 2.3 0 0 1 1237.1 782.8 Z" fill="url(#g31)" stroke="#fff" stroke-opacity="0.85" stroke-width="1.4"/>
<ellipse cx="1242" cy="782.8" rx="4.5" ry="2.3" fill="#000" fill-opacity="0.12" stroke="#222" stroke-opacity="0.45" stroke-width="0.7"/>
<ellipse cx="1258.2" cy="406.1" rx="5.4" ry="1.5" fill="#800000" stroke="#3a0000" stroke-opacity="0.7" stroke-width="0.7"/>
<path d="M1045.3 658.2 L1055.4 658.2 L1052.2 782.6 A5 2.3 0 0 1 1042.3 782.6 Z" fill="url(#g32)" stroke="#fff" stroke-opacity="0.85" stroke-width="1.4"/>
<ellipse cx="1047.3" cy="782.6" rx="4.5" ry="2.3" fill="#000" fill-opacity="0.12" stroke="#222" stroke-opacity="0.45" stroke-width="0.7"/>
<ellipse cx="1050.4" cy="658.2" rx="5.1" ry="2" fill="#00ffff" stroke="#007373" stroke-opacity="0.7" stroke-width="0.7"/>
<path d="M847.7 731.4 L857.7 731.4 L857.3 782.3 A5 2.3 0 0 1 847.4 782.3 Z" fill="url(#g33)" stroke="#fff" stroke-opacity="0.85" stroke-width="1.4"/>
<ellipse cx="852.4" cy="782.3" rx="4.5" ry="2.3" fill="#000" fill-opacity="0.12" stroke="#222" stroke-opacity="0.45" stroke-width="0.7"/>
<ellipse cx="852.7" cy="731.4" rx="5" ry="2.2" fill="#ff00ff" stroke="#730073" stroke-opacity="0.7" stroke-width="0.7"/>
<path d="M652.2 758 L662.1 758 L662.4 782 A5 2.3 0 0 1 652.5 782 Z" fill="url(#g34)" stroke="#fff" stroke-opacity="0.85" stroke-width="1.4"/>
<ellipse cx="657.4" cy="782" rx="4.5" ry="2.3" fill="#000" fill-opacity="0.12" stroke="#222" stroke-opacity="0.45" stroke-width="0.7"/>
<ellipse cx="657.1" cy="758" rx="5" ry="2.2" fill="#0000ff" stroke="#000073" stroke-opacity="0.7" stroke-width="0.7"/>
<ellipse cx="462.3" cy="781.8" rx="5" ry="2.3" fill="#929246" fill-opacity="0.75" stroke="#333" stroke-opacity="0.4" stroke-width="0.6"/>
<path d="M1273 316.4 L1283.9 316.4 L1262.4 788.7 A5 2.3 0 0 1 1252.4 788.7 Z" fill="url(#g35)" stroke="#fff" stroke-opacity="0.85" stroke-width="1.4"/>
<ellipse cx="1257.4" cy="788.7" rx="4.5" ry="2.3" fill="#000" fill-opacity="0.12" stroke="#222" stroke-opacity="0.45" stroke-width="0.7"/>
<ellipse cx="1278.5" cy="316.4" rx="5.5" ry="1.3" fill="#800000" stroke="#3a0000" stroke-opacity="0.7" stroke-width="0.7"/>
<path d="M1060.7 632 L1071 632 L1066.7 788.5 A5 2.3 0 0 1 1056.8 788.5 Z" fill="url(#g36)" stroke="#fff" stroke-opacity="0.85" stroke-width="1.4"/>
<ellipse cx="1061.7" cy="788.5" rx="4.5" ry="2.3" fill="#000" fill-opacity="0.12" stroke="#222" stroke-opacity="0.45" stroke-width="0.7"/>
<ellipse cx="1065.8" cy="632" rx="5.2" ry="2" fill="#00ffff" stroke="#007373" stroke-opacity="0.7" stroke-width="0.7"/>
<path d="M1298 126.8 L1309.4 126.8 L1277.9 794.7 A5 2.3 0 0 1 1267.9 794.7 Z" fill="url(#g37)" stroke="#fff" stroke-opacity="0.85" stroke-width="1.4"/>
<ellipse cx="1272.9" cy="794.7" rx="4.5" ry="2.3" fill="#000" fill-opacity="0.12" stroke="#222" stroke-opacity="0.45" stroke-width="0.7"/>
<ellipse cx="1303.7" cy="126.8" rx="5.7" ry="0.9" fill="#800000" stroke="#3a0000" stroke-opacity="0.7" stroke-width="0.7"/>
<path d="M1076.3 607.3 L1086.7 607.3 L1081.3 794.4 A5 2.3 0 0 1 1071.3 794.4 Z" fill="url(#g38)" stroke="#fff" stroke-opacity="0.85" stroke-width="1.4"/>
<ellipse cx="1076.3" cy="794.4" rx="4.5" ry="2.3" fill="#000" fill-opacity="0.12" stroke="#222" stroke-opacity="0.45" stroke-width="0.7"/>
<ellipse cx="1081.5" cy="607.3" rx="5.2" ry="1.9" fill="#00ffff" stroke="#007373" stroke-opacity="0.7" stroke-width="0.7"/>
<path d="M875.1 734.3 L885.3 734.3 L884.6 794.2 A5 2.3 0 0 1 874.6 794.2 Z" fill="url(#g39)" stroke="#fff" stroke-opacity="0.85" stroke-width="1.4"/>
<ellipse cx="879.6" cy="794.2" rx="4.5" ry="2.3" fill="#000" fill-opacity="0.12" stroke="#222" stroke-opacity="0.45" stroke-width="0.7"/>
<ellipse cx="880.2" cy="734.3" rx="5.1" ry="2.2" fill="#ff00ff" stroke="#730073" stroke-opacity="0.7" stroke-width="0.7"/>
<path d="M677.5 757.4 L687.5 757.4 L687.8 793.9 A5 2.3 0 0 1 677.8 793.9 Z" fill="url(#g40)" stroke="#fff" stroke-opacity="0.85" stroke-width="1.4"/>
<ellipse cx="682.8" cy="793.9" rx="4.5" ry="2.3" fill="#000" fill-opacity="0.12" stroke="#222" stroke-opacity="0.45" stroke-width="0.7"/>
<ellipse cx="682.5" cy="757.4" rx="5" ry="2.2" fill="#0000ff" stroke="#000073" stroke-opacity="0.7" stroke-width="0.7"/>
<path d="M480.7 785.3 L490.7 785.3 L490.9 793.6 A5 2.3 0 0 1 480.9 793.6 Z" fill="url(#g41)" stroke="#fff" stroke-opacity="0.85" stroke-width="1.4"/>
<ellipse cx="485.9" cy="793.6" rx="4.5" ry="2.3" fill="#000" fill-opacity="0.12" stroke="#222" stroke-opacity="0.45" stroke-width="0.7"/>
<ellipse cx="485.7" cy="785.3" rx="5" ry="2.3" fill="#ffff00" stroke="#737300" stroke-opacity="0.7" stroke-width="0.7"/>
<path d="M1092.1 583.4 L1102.7 583.4 L1096.1 800.4 A5 2.3 0 0 1 1086.1 800.4 Z" fill="url(#g42)" stroke="#fff" stroke-opacity="0.85" stroke-width="1.4"/>
<ellipse cx="1091.1" cy="800.4" rx="4.5" ry="2.3" fill="#000" fill-opacity="0.12" stroke="#222" stroke-opacity="0.45" stroke-width="0.7"/>
<ellipse cx="1097.4" cy="583.4" rx="5.3" ry="1.9" fill="#00ffff" stroke="#007373" stroke-opacity="0.7" stroke-width="0.7"/>
<path d="M1108.2 557.7 L1118.9 557.7 L1111 806.5 A5 2.3 0 0 1 1100.9 806.5 Z" fill="url(#g43)" stroke="#fff" stroke-opacity="0.85" stroke-width="1.4"/>
<ellipse cx="1106" cy="806.5" rx="4.5" ry="2.3" fill="#000" fill-opacity="0.12" stroke="#222" stroke-opacity="0.45" stroke-width="0.7"/>
<ellipse cx="1113.6" cy="557.7" rx="5.3" ry="1.8" fill="#00ffff" stroke="#007373" stroke-opacity="0.7" stroke-width="0.7"/>
<path d="M903.1 736.7 L913.4 736.7 L912.4 806.2 A5 2.3 0 0 1 902.4 806.2 Z" fill="url(#g44)" stroke="#fff" stroke-opacity="0.85" stroke-width="1.4"/>
<ellipse cx="907.4" cy="806.2" rx="4.5" ry="2.3" fill="#000" fill-opacity="0.12" stroke="#222" stroke-opacity="0.45" stroke-width="0.7"/>
<ellipse cx="908.2" cy="736.7" rx="5.1" ry="2.2" fill="#ff00ff" stroke="#730073" stroke-opacity="0.7" stroke-width="0.7"/>
<path d="M703.2 750.4 L713.5 750.4 L713.8 806 A5.1 2.3 0 0 1 703.7 806 Z" fill="url(#g45)" stroke="#fff" stroke-opacity="0.85" stroke-width="1.4"/>
<ellipse cx="708.7" cy="806" rx="4.6" ry="2.3" fill="#000" fill-opacity="0.12" stroke="#222" stroke-opacity="0.45" stroke-width="0.7"/>
<ellipse cx="708.3" cy="750.4" rx="5.1" ry="2.2" fill="#0000ff" stroke="#000073" stroke-opacity="0.7" stroke-width="0.7"/>
<path d="M504.4 788 L514.5 788 L515 805.7 A5.1 2.3 0 0 1 504.9 805.7 Z" fill="url(#g46)" stroke="#fff" stroke-opacity="0.85" stroke-width="1.4"/>
<ellipse cx="509.9" cy="805.7" rx="4.6" ry="2.3" fill="#000" fill-opacity="0.12" stroke="#222" stroke-opacity="0.45" stroke-width="0.7"/>
<ellipse cx="509.5" cy="788" rx="5.1" ry="2.3" fill="#ffff00" stroke="#737300" stroke-opacity="0.7" stroke-width="0.7"/>
<path d="M1125 517.8 L1135.8 517.8 L1126.1 812.6 A5.1 2.3 0 0 1 1115.9 812.6 Z" fill="url(#g47)" stroke="#fff" stroke-opacity="0.85" stroke-width="1.4"/>
<ellipse cx="1121" cy="812.6" rx="4.6" ry="2.3" fill="#000" fill-opacity="0.12" stroke="#222" stroke-opacity="0.45" stroke-width="0.7"/>
<ellipse cx="1130.4" cy="517.8" rx="5.4" ry="1.7" fill="#00ffff" stroke="#007373" stroke-opacity="0.7" stroke-width="0.7"/>
<path d="M1142.2 474.8 L1153.1 474.8 L1141.3 818.8 A5.1 2.3 0 0 1 1131.1 818.8 Z" fill="url(#g48)" stroke="#fff" stroke-opacity="0.85" stroke-width="1.4"/>
<ellipse cx="1136.2" cy="818.8" rx="4.6" ry="2.3" fill="#000" fill-opacity="0.12" stroke="#222" stroke-opacity="0.45" stroke-width="0.7"/>
<ellipse cx="1147.7" cy="474.8" rx="5.5" ry="1.6" fill="#00ffff" stroke="#007373" stroke-opacity="0.7" stroke-width="0.7"/>
<path d="M931.7 739.7 L942 739.7 L940.8 818.5 A5.1 2.3 0 0 1 930.6 818.5 Z" fill="url(#g49)" stroke="#fff" stroke-opacity="0.85" stroke-width="1.4"/>
<ellipse cx="935.7" cy="818.5" rx="4.6" ry="2.3" fill="#000" fill-opacity="0.12" stroke="#222" stroke-opacity="0.45" stroke-width="0.7"/>
<ellipse cx="936.8" cy="739.7" rx="5.2" ry="2.2" fill="#ff00ff" stroke="#730073" stroke-opacity="0.7" stroke-width="0.7"/>
<path d="M729.6 745.4 L740 745.4 L740.2 818.3 A5.1 2.3 0 0 1 730 818.3 Z" fill="url(#g50)" stroke="#fff" stroke-opacity="0.85" stroke-width="1.4"/>
<ellipse cx="735.1" cy="818.3" rx="4.6" ry="2.3" fill="#000" fill-opacity="0.12" stroke="#222" stroke-opacity="0.45" stroke-width="0.7"/>
<ellipse cx="734.8" cy="745.4" rx="5.2" ry="2.2" fill="#0000ff" stroke="#000073" stroke-opacity="0.7" stroke-width="0.7"/>
<path d="M528.7 791 L538.9 791 L539.5 818 A5.1 2.3 0 0 1 529.3 818 Z" fill="url(#g51)" stroke="#fff" stroke-opacity="0.85" stroke-width="1.4"/>
<ellipse cx="534.4" cy="818" rx="4.6" ry="2.3" fill="#000" fill-opacity="0.12" stroke="#222" stroke-opacity="0.45" stroke-width="0.7"/>
<ellipse cx="533.8" cy="791" rx="5.1" ry="2.3" fill="#ffff00" stroke="#737300" stroke-opacity="0.7" stroke-width="0.7"/>
<ellipse cx="333.6" cy="817.8" rx="5.1" ry="2.3" fill="#469246" fill-opacity="0.75" stroke="#333" stroke-opacity="0.4" stroke-width="0.6"/>
<path d="M1160.2 414.2 L1171.4 414.2 L1156.6 825.1 A5.1 2.4 0 0 1 1146.4 825.1 Z" fill="url(#g52)" stroke="#fff" stroke-opacity="0.85" stroke-width="1.4"/>
<ellipse cx="1151.5" cy="825.1" rx="4.6" ry="2.4" fill="#000" fill-opacity="0.12" stroke="#222" stroke-opacity="0.45" stroke-width="0.7"/>
<ellipse cx="1165.8" cy="414.2" rx="5.6" ry="1.5" fill="#00ffff" stroke="#007373" stroke-opacity="0.7" stroke-width="0.7"/>
<path d="M946.2 736.3 L956.7 736.3 L955.2 824.8 A5.1 2.4 0 0 1 944.9 824.8 Z" fill="url(#g53)" stroke="#fff" stroke-opacity="0.85" stroke-width="1.4"/>
<ellipse cx="950.1" cy="824.8" rx="4.6" ry="2.4" fill="#000" fill-opacity="0.12" stroke="#222" stroke-opacity="0.45" stroke-width="0.7"/>
<ellipse cx="951.5" cy="736.3" rx="5.2" ry="2.2" fill="#ff00ff" stroke="#730073" stroke-opacity="0.7" stroke-width="0.7"/>
<path d="M1179.3 334.8 L1190.7 334.8 L1172.1 831.4 A5.1 2.4 0 0 1 1161.8 831.4 Z" fill="url(#g54)" stroke="#fff" stroke-opacity="0.85" stroke-width="1.4"/>
<ellipse cx="1167" cy="831.4" rx="4.6" ry="2.4" fill="#000" fill-opacity="0.12" stroke="#222" stroke-opacity="0.45" stroke-width="0.7"/>
<ellipse cx="1185" cy="334.8" rx="5.7" ry="1.3" fill="#00ffff" stroke="#007373" stroke-opacity="0.7" stroke-width="0.7"/>
<path d="M961 730.4 L971.6 730.4 L969.7 831.1 A5.1 2.4 0 0 1 959.4 831.1 Z" fill="url(#g55)" stroke="#fff" stroke-opacity="0.85" stroke-width="1.4"/>
<ellipse cx="964.5" cy="831.1" rx="4.6" ry="2.4" fill="#000" fill-opacity="0.12" stroke="#222" stroke-opacity="0.45" stroke-width="0.7"/>
<ellipse cx="966.3" cy="730.4" rx="5.3" ry="2.2" fill="#ff00ff" stroke="#730073" stroke-opacity="0.7" stroke-width="0.7"/>
<path d="M756.6 744.1 L767.1 744.1 L767.2 830.8 A5.1 2.4 0 0 1 756.9 830.8 Z" fill="url(#g56)" stroke="#fff" stroke-opacity="0.85" stroke-width="1.4"/>
<ellipse cx="762" cy="830.8" rx="4.6" ry="2.4" fill="#000" fill-opacity="0.12" stroke="#222" stroke-opacity="0.45" stroke-width="0.7"/>
<ellipse cx="761.9" cy="744.1" rx="5.2" ry="2.2" fill="#0000ff" stroke="#000073" stroke-opacity="0.7" stroke-width="0.7"/>
<path d="M553.4 791.3 L563.8 791.3 L564.5 830.6 A5.2 2.4 0 0 1 554.2 830.6 Z" fill="url(#g57)" stroke="#fff" stroke-opacity="0.85" stroke-width="1.4"/>
<ellipse cx="559.4" cy="830.6" rx="4.7" ry="2.4" fill="#000" fill-opacity="0.12" stroke="#222" stroke-opacity="0.45" stroke-width="0.7"/>
<ellipse cx="558.6" cy="791.3" rx="5.2" ry="2.3" fill="#ffff00" stroke="#737300" stroke-opacity="0.7" stroke-width="0.7"/>
<path d="M351.1 822.6 L361.5 822.6 L361.7 830.3 A5.2 2.4 0 0 1 351.4 830.3 Z" fill="url(#g58)" stroke="#fff" stroke-opacity="0.85" stroke-width="1.4"/>
<ellipse cx="356.6" cy="830.3" rx="4.7" ry="2.4" fill="#000" fill-opacity="0.12" stroke="#222" stroke-opacity="0.45" stroke-width="0.7"/>
<ellipse cx="356.3" cy="822.6" rx="5.2" ry="2.4" fill="#00ff00" stroke="#007300" stroke-opacity="0.7" stroke-width="0.7"/>
<path d="M976 724.6 L986.6 724.6 L984.4 837.5 A5.2 2.4 0 0 1 974 837.5 Z" fill="url(#g59)" stroke="#fff" stroke-opacity="0.85" stroke-width="1.4"/>
<ellipse cx="979.2" cy="837.5" rx="4.7" ry="2.4" fill="#000" fill-opacity="0.12" stroke="#222" stroke-opacity="0.45" stroke-width="0.7"/>
<ellipse cx="981.3" cy="724.6" rx="5.3" ry="2.2" fill="#ff00ff" stroke="#730073" stroke-opacity="0.7" stroke-width="0.7"/>
<path d="M991.2 716.9 L1001.9 716.9 L999.2 843.9 A5.2 2.4 0 0 1 988.8 843.9 Z" fill="url(#g60)" stroke="#fff" stroke-opacity="0.85" stroke-width="1.4"/>
<ellipse cx="994" cy="843.9" rx="4.7" ry="2.4" fill="#000" fill-opacity="0.12" stroke="#222" stroke-opacity="0.45" stroke-width="0.7"/>
<ellipse cx="996.5" cy="716.9" rx="5.3" ry="2.1" fill="#ff00ff" stroke="#730073" stroke-opacity="0.7" stroke-width="0.7"/>
<path d="M578.6 790.8 L589.1 790.8 L590 843.4 A5.2 2.4 0 0 1 579.6 843.4 Z" fill="url(#g61)" stroke="#fff" stroke-opacity="0.85" stroke-width="1.4"/>
<ellipse cx="584.8" cy="843.4" rx="4.7" ry="2.4" fill="#000" fill-opacity="0.12" stroke="#222" stroke-opacity="0.45" stroke-width="0.7"/>
<ellipse cx="583.9" cy="790.8" rx="5.3" ry="2.3" fill="#ffff00" stroke="#737300" stroke-opacity="0.7" stroke-width="0.7"/>
<path d="M374.2 826.6 L384.7 826.6 L385.3 843.1 A5.2 2.4 0 0 1 374.9 843.1 Z" fill="url(#g62)" stroke="#fff" stroke-opacity="0.85" stroke-width="1.4"/>
<ellipse cx="380.1" cy="843.1" rx="4.7" ry="2.4" fill="#000" fill-opacity="0.12" stroke="#222" stroke-opacity="0.45" stroke-width="0.7"/>
<ellipse cx="379.5" cy="826.6" rx="5.2" ry="2.4" fill="#00ff00" stroke="#007300" stroke-opacity="0.7" stroke-width="0.7"/>
<path d="M1006.6 705.9 L1017.4 705.9 L1014.1 850.4 A5.2 2.4 0 0 1 1003.7 850.4 Z" fill="url(#g63)" stroke="#fff" stroke-opacity="0.85" stroke-width="1.4"/>
<ellipse cx="1008.9" cy="850.4" rx="4.7" ry="2.4" fill="#000" fill-opacity="0.12" stroke="#222" stroke-opacity="0.45" stroke-width="0.7"/>
<ellipse cx="1012" cy="705.9" rx="5.4" ry="2.1" fill="#ff00ff" stroke="#730073" stroke-opacity="0.7" stroke-width="0.7"/>
<path d="M1022.3 692.3 L1033.2 692.3 L1029.2 856.9 A5.2 2.4 0 0 1 1018.7 856.9 Z" fill="url(#g64)" stroke="#fff" stroke-opacity="0.85" stroke-width="1.4"/>
<ellipse cx="1024" cy="856.9" rx="4.7" ry="2.4" fill="#000" fill-opacity="0.12" stroke="#222" stroke-opacity="0.45" stroke-width="0.7"/>
<ellipse cx="1027.7" cy="692.3" rx="5.4" ry="2.1" fill="#ff00ff" stroke="#730073" stroke-opacity="0.7" stroke-width="0.7"/>
<path d="M812.5 725.7 L823.3 725.7 L822.7 856.7 A5.3 2.4 0 0 1 812.2 856.7 Z" fill="url(#g65)" stroke="#fff" stroke-opacity="0.85" stroke-width="1.4"/>
<ellipse cx="817.4" cy="856.7" rx="4.8" ry="2.4" fill="#000" fill-opacity="0.12" stroke="#222" stroke-opacity="0.45" stroke-width="0.7"/>
<ellipse cx="817.9" cy="725.7" rx="5.4" ry="2.2" fill="#0000ff" stroke="#000073" stroke-opacity="0.7" stroke-width="0.7"/>
<path d="M604.3 786.6 L615 786.6 L616 856.4 A5.3 2.4 0 0 1 605.5 856.4 Z" fill="url(#g66)" stroke="#fff" stroke-opacity="0.85" stroke-width="1.4"/>
<ellipse cx="610.8" cy="856.4" rx="4.8" ry="2.4" fill="#000" fill-opacity="0.12" stroke="#222" stroke-opacity="0.45" stroke-width="0.7"/>
<ellipse cx="609.7" cy="786.6" rx="5.3" ry="2.3" fill="#ffff00" stroke="#737300" stroke-opacity="0.7" stroke-width="0.7"/>
<path d="M397.8 830.3 L408.4 830.3 L409.2 856.2 A5.3 2.4 0 0 1 398.7 856.2 Z" fill="url(#g67)" stroke="#fff" stroke-opacity="0.85" stroke-width="1.4"/>
<ellipse cx="404" cy="856.2" rx="4.8" ry="2.4" fill="#000" fill-opacity="0.12" stroke="#222" stroke-opacity="0.45" stroke-width="0.7"/>
<ellipse cx="403.1" cy="830.3" rx="5.3" ry="2.4" fill="#00ff00" stroke="#007300" stroke-opacity="0.7" stroke-width="0.7"/>
<path d="M1038.3 674.7 L1049.3 674.7 L1044.5 863.6 A5.3 2.4 0 0 1 1033.9 863.6 Z" fill="url(#g68)" stroke="#fff" stroke-opacity="0.85" stroke-width="1.4"/>
<ellipse cx="1039.2" cy="863.6" rx="4.8" ry="2.4" fill="#000" fill-opacity="0.12" stroke="#222" stroke-opacity="0.45" stroke-width="0.7"/>
<ellipse cx="1043.8" cy="674.7" rx="5.5" ry="2.1" fill="#ff00ff" stroke="#730073" stroke-opacity="0.7" stroke-width="0.7"/>
<path d="M827 698.2 L837.9 698.2 L836.9 863.3 A5.3 2.4 0 0 1 826.3 863.3 Z" fill="url(#g69)" stroke="#fff" stroke-opacity="0.85" stroke-width="1.4"/>
<ellipse cx="831.6" cy="863.3" rx="4.8" ry="2.4" fill="#000" fill-opacity="0.12" stroke="#222" stroke-opacity="0.45" stroke-width="0.7"/>
<ellipse cx="832.4" cy="698.2" rx="5.5" ry="2.1" fill="#0000ff" stroke="#000073" stroke-opacity="0.7" stroke-width="0.7"/>
<path d="M1055.3 627.9 L1066.4 627.9 L1059.9 870.3 A5.3 2.4 0 0 1 1049.3 870.3 Z" fill="url(#g70)" stroke="#fff" stroke-opacity="0.85" stroke-width="1.4"/>
<ellipse cx="1054.6" cy="870.3" rx="4.8" ry="2.4" fill="#000" fill-opacity="0.12" stroke="#222" stroke-opacity="0.45" stroke-width="0.7"/>
<ellipse cx="1060.8" cy="627.9" rx="5.6" ry="2" fill="#ff00ff" stroke="#730073" stroke-opacity="0.7" stroke-width="0.7"/>
<path d="M841.7 672.8 L852.7 672.8 L851.3 870 A5.3 2.4 0 0 1 840.7 870 Z" fill="url(#g71)" stroke="#fff" stroke-opacity="0.85" stroke-width="1.4"/>
<ellipse cx="846" cy="870" rx="4.8" ry="2.4" fill="#000" fill-opacity="0.12" stroke="#222" stroke-opacity="0.45" stroke-width="0.7"/>
<ellipse cx="847.2" cy="672.8" rx="5.5" ry="2" fill="#0000ff" stroke="#000073" stroke-opacity="0.7" stroke-width="0.7"/>
<path d="M421.8 831.7 L432.5 831.7 L433.7 869.5 A5.3 2.4 0 0 1 423.1 869.5 Z" fill="url(#g72)" stroke="#fff" stroke-opacity="0.85" stroke-width="1.4"/>
<ellipse cx="428.4" cy="869.5" rx="4.8" ry="2.4" fill="#000" fill-opacity="0.12" stroke="#222" stroke-opacity="0.45" stroke-width="0.7"/>
<ellipse cx="427.2" cy="831.7" rx="5.3" ry="2.4" fill="#00ff00" stroke="#007300" stroke-opacity="0.7" stroke-width="0.7"/>
<path d="M856.6 647.6 L867.8 647.6 L865.8 876.8 A5.3 2.5 0 0 1 855.1 876.8 Z" fill="url(#g73)" stroke="#fff" stroke-opacity="0.85" stroke-width="1.4"/>
<ellipse cx="860.4" cy="876.8" rx="4.8" ry="2.5" fill="#000" fill-opacity="0.12" stroke="#222" stroke-opacity="0.45" stroke-width="0.7"/>
<ellipse cx="862.2" cy="647.6" rx="5.6" ry="2" fill="#0000ff" stroke="#000073" stroke-opacity="0.7" stroke-width="0.7"/>
<path d="M871.9 609.5 L883.3 609.5 L880.4 883.6 A5.4 2.5 0 0 1 869.7 883.6 Z" fill="url(#g74)" stroke="#fff" stroke-opacity="0.85" stroke-width="1.4"/>
<ellipse cx="875.1" cy="883.6" rx="4.9" ry="2.5" fill="#000" fill-opacity="0.12" stroke="#222" stroke-opacity="0.45" stroke-width="0.7"/>
<ellipse cx="877.6" cy="609.5" rx="5.7" ry="1.9" fill="#0000ff" stroke="#000073" stroke-opacity="0.7" stroke-width="0.7"/>
<path d="M446.3 830.5 L457.1 830.5 L458.7 883.1 A5.4 2.5 0 0 1 447.9 883.1 Z" fill="url(#g75)" stroke="#fff" stroke-opacity="0.85" stroke-width="1.4"/>
<ellipse cx="453.3" cy="883.1" rx="4.9" ry="2.5" fill="#000" fill-opacity="0.12" stroke="#222" stroke-opacity="0.45" stroke-width="0.7"/>
<ellipse cx="451.7" cy="830.5" rx="5.4" ry="2.4" fill="#00ff00" stroke="#007300" stroke-opacity="0.7" stroke-width="0.7"/>
<path d="M887.6 564.6 L899.1 564.6 L895.2 890.5 A5.4 2.5 0 0 1 884.5 890.5 Z" fill="url(#g76)" stroke="#fff" stroke-opacity="0.85" stroke-width="1.4"/>
<ellipse cx="889.9" cy="890.5" rx="4.9" ry="2.5" fill="#000" fill-opacity="0.12" stroke="#222" stroke-opacity="0.45" stroke-width="0.7"/>
<ellipse cx="893.3" cy="564.6" rx="5.7" ry="1.8" fill="#0000ff" stroke="#000073" stroke-opacity="0.7" stroke-width="0.7"/>
<path d="M903.6 511.1 L915.3 511.1 L910.2 897.4 A5.4 2.5 0 0 1 899.4 897.4 Z" fill="url(#g77)" stroke="#fff" stroke-opacity="0.85" stroke-width="1.4"/>
<ellipse cx="904.8" cy="897.4" rx="4.9" ry="2.5" fill="#000" fill-opacity="0.12" stroke="#222" stroke-opacity="0.45" stroke-width="0.7"/>
<ellipse cx="909.4" cy="511.1" rx="5.8" ry="1.7" fill="#0000ff" stroke="#000073" stroke-opacity="0.7" stroke-width="0.7"/>
<path d="M685.1 759.4 L696.3 759.4 L697.2 897.2 A5.4 2.5 0 0 1 686.4 897.2 Z" fill="url(#g78)" stroke="#fff" stroke-opacity="0.85" stroke-width="1.4"/>
<ellipse cx="691.8" cy="897.2" rx="4.9" ry="2.5" fill="#000" fill-opacity="0.12" stroke="#222" stroke-opacity="0.45" stroke-width="0.7"/>
<ellipse cx="690.7" cy="759.4" rx="5.6" ry="2.2" fill="#ffff00" stroke="#737300" stroke-opacity="0.7" stroke-width="0.7"/>
<path d="M471.2 826.1 L482.2 826.1 L484.1 896.9 A5.4 2.5 0 0 1 473.3 896.9 Z" fill="url(#g79)" stroke="#fff" stroke-opacity="0.85" stroke-width="1.4"/>
<ellipse cx="478.7" cy="896.9" rx="4.9" ry="2.5" fill="#000" fill-opacity="0.12" stroke="#222" stroke-opacity="0.45" stroke-width="0.7"/>
<ellipse cx="476.7" cy="826.1" rx="5.5" ry="2.4" fill="#00ff00" stroke="#007300" stroke-opacity="0.7" stroke-width="0.7"/>
<path d="M920.7 395.6 L932.7 395.6 L925.3 904.5 A5.4 2.5 0 0 1 914.4 904.5 Z" fill="url(#g80)" stroke="#fff" stroke-opacity="0.85" stroke-width="1.4"/>
<ellipse cx="919.9" cy="904.5" rx="4.9" ry="2.5" fill="#000" fill-opacity="0.12" stroke="#222" stroke-opacity="0.45" stroke-width="0.7"/>
<ellipse cx="926.7" cy="395.6" rx="6" ry="1.4" fill="#0000ff" stroke="#000073" stroke-opacity="0.7" stroke-width="0.7"/>
<path d="M699 731 L710.3 731 L711.3 904.2 A5.4 2.5 0 0 1 700.4 904.2 Z" fill="url(#g81)" stroke="#fff" stroke-opacity="0.85" stroke-width="1.4"/>
<ellipse cx="705.8" cy="904.2" rx="4.9" ry="2.5" fill="#000" fill-opacity="0.12" stroke="#222" stroke-opacity="0.45" stroke-width="0.7"/>
<ellipse cx="704.6" cy="731" rx="5.6" ry="2.2" fill="#ffff00" stroke="#737300" stroke-opacity="0.7" stroke-width="0.7"/>
<path d="M938.7 259.9 L951 259.9 L940.6 911.6 A5.5 2.5 0 0 1 929.6 911.6 Z" fill="url(#g82)" stroke="#fff" stroke-opacity="0.85" stroke-width="1.4"/>
<ellipse cx="935.1" cy="911.6" rx="5" ry="2.5" fill="#000" fill-opacity="0.12" stroke="#222" stroke-opacity="0.45" stroke-width="0.7"/>
<ellipse cx="944.9" cy="259.9" rx="6.2" ry="1.1" fill="#0000ff" stroke="#000073" stroke-opacity="0.7" stroke-width="0.7"/>
<path d="M713.1 704.8 L724.5 704.8 L725.4 911.3 A5.5 2.5 0 0 1 714.5 911.3 Z" fill="url(#g83)" stroke="#fff" stroke-opacity="0.85" stroke-width="1.4"/>
<ellipse cx="719.9" cy="911.3" rx="5" ry="2.5" fill="#000" fill-opacity="0.12" stroke="#222" stroke-opacity="0.45" stroke-width="0.7"/>
<ellipse cx="718.8" cy="704.8" rx="5.7" ry="2.1" fill="#ffff00" stroke="#737300" stroke-opacity="0.7" stroke-width="0.7"/>
<path d="M496.8 820.5 L507.9 820.5 L510.1 911.1 A5.5 2.5 0 0 1 499.2 911.1 Z" fill="url(#g84)" stroke="#fff" stroke-opacity="0.85" stroke-width="1.4"/>
<ellipse cx="504.7" cy="911.1" rx="5" ry="2.5" fill="#000" fill-opacity="0.12" stroke="#222" stroke-opacity="0.45" stroke-width="0.7"/>
<ellipse cx="502.3" cy="820.5" rx="5.6" ry="2.3" fill="#00ff00" stroke="#007300" stroke-opacity="0.7" stroke-width="0.7"/>
<path d="M727.5 673.9 L739 673.9 L739.7 918.5 A5.5 2.5 0 0 1 728.7 918.5 Z" fill="url(#g85)" stroke="#fff" stroke-opacity="0.85" stroke-width="1.4"/>
<ellipse cx="734.2" cy="918.5" rx="5" ry="2.5" fill="#000" fill-opacity="0.12" stroke="#222" stroke-opacity="0.45" stroke-width="0.7"/>
<ellipse cx="733.3" cy="673.9" rx="5.8" ry="2" fill="#ffff00" stroke="#737300" stroke-opacity="0.7" stroke-width="0.7"/>
<path d="M742 631.8 L753.8 631.8 L754.2 925.8 A5.5 2.5 0 0 1 743.1 925.8 Z" fill="url(#g86)" stroke="#fff" stroke-opacity="0.85" stroke-width="1.4"/>
<ellipse cx="748.7" cy="925.8" rx="5" ry="2.5" fill="#000" fill-opacity="0.12" stroke="#222" stroke-opacity="0.45" stroke-width="0.7"/>
<ellipse cx="747.9" cy="631.8" rx="5.9" ry="2" fill="#ffff00" stroke="#737300" stroke-opacity="0.7" stroke-width="0.7"/>
<path d="M523 818.5 L534.3 818.5 L536.7 925.5 A5.5 2.5 0 0 1 525.6 925.5 Z" fill="url(#g87)" stroke="#fff" stroke-opacity="0.85" stroke-width="1.4"/>
<ellipse cx="531.1" cy="925.5" rx="5" ry="2.5" fill="#000" fill-opacity="0.12" stroke="#222" stroke-opacity="0.45" stroke-width="0.7"/>
<ellipse cx="528.7" cy="818.5" rx="5.7" ry="2.3" fill="#00ff00" stroke="#007300" stroke-opacity="0.7" stroke-width="0.7"/>
<path d="M756.8 550.8 L768.8 550.8 L768.8 933.1 A5.6 2.6 0 0 1 757.7 933.1 Z" fill="url(#g88)" stroke="#fff" stroke-opacity="0.85" stroke-width="1.4"/>
<ellipse cx="763.3" cy="933.1" rx="5.1" ry="2.6" fill="#000" fill-opacity="0.12" stroke="#222" stroke-opacity="0.45" stroke-width="0.7"/>
<ellipse cx="762.8" cy="550.8" rx="6" ry="1.8" fill="#ffff00" stroke="#737300" stroke-opacity="0.7" stroke-width="0.7"/>
<path d="M772 462.2 L784.2 462.2 L783.6 940.5 A5.6 2.6 0 0 1 772.4 940.5 Z" fill="url(#g89)" stroke="#fff" stroke-opacity="0.85" stroke-width="1.4"/>
<ellipse cx="778" cy="940.5" rx="5.1" ry="2.6" fill="#000" fill-opacity="0.12" stroke="#222" stroke-opacity="0.45" stroke-width="0.7"/>
<ellipse cx="778.1" cy="462.2" rx="6.1" ry="1.6" fill="#ffff00" stroke="#737300" stroke-opacity="0.7" stroke-width="0.7"/>
<path d="M549.6 801.9 L561.1 801.9 L563.8 940.3 A5.6 2.6 0 0 1 552.6 940.3 Z" fill="url(#g90)" stroke="#fff" stroke-opacity="0.85" stroke-width="1.4"/>
<ellipse cx="558.2" cy="940.3" rx="5.1" ry="2.6" fill="#000" fill-opacity="0.12" stroke="#222" stroke-opacity="0.45" stroke-width="0.7"/>
<ellipse cx="555.3" cy="801.9" rx="5.7" ry="2.3" fill="#00ff00" stroke="#007300" stroke-opacity="0.7" stroke-width="0.7"/>
<path d="M787.6 364.6 L800.1 364.6 L798.5 948 A5.6 2.6 0 0 1 787.3 948 Z" fill="url(#g91)" stroke="#fff" stroke-opacity="0.85" stroke-width="1.4"/>
<ellipse cx="792.9" cy="948" rx="5.1" ry="2.6" fill="#000" fill-opacity="0.12" stroke="#222" stroke-opacity="0.45" stroke-width="0.7"/>
<ellipse cx="793.8" cy="364.6" rx="6.3" ry="1.4" fill="#ffff00" stroke="#737300" stroke-opacity="0.7" stroke-width="0.7"/>
<path d="M562.8 774.5 L574.4 774.5 L577.5 947.8 A5.6 2.6 0 0 1 566.3 947.8 Z" fill="url(#g92)" stroke="#fff" stroke-opacity="0.85" stroke-width="1.4"/>
<ellipse cx="571.9" cy="947.8" rx="5.1" ry="2.6" fill="#000" fill-opacity="0.12" stroke="#222" stroke-opacity="0.45" stroke-width="0.7"/>
<ellipse cx="568.6" cy="774.5" rx="5.8" ry="2.2" fill="#00ff00" stroke="#007300" stroke-opacity="0.7" stroke-width="0.7"/>
<g opacity="0.6">
<path d="M784.2 742.3 L794.9 742.3 L794.6 843.6 A5.2 2.4 0 0 1 784.2 843.6 Z" fill="url(#g93)"/>
<ellipse cx="789.4" cy="843.6" rx="4.7" ry="2.4" fill="#000" fill-opacity="0.12" stroke="#222" stroke-opacity="0.45" stroke-width="0.7"/>
<ellipse cx="789.5" cy="742.3" rx="5.3" ry="2.2" fill="#0000ff" stroke="#000073" stroke-opacity="0.7" stroke-width="0.7"/>
</g>
<path d="M803.9 169.6 L816.9 169.6 L813.6 955.6 A5.6 2.6 0 0 1 802.3 955.6 Z" fill="url(#g94)" stroke="#fff" stroke-opacity="0.85" stroke-width="1.4"/>
<ellipse cx="808" cy="955.6" rx="5.1" ry="2.6" fill="#000" fill-opacity="0.12" stroke="#222" stroke-opacity="0.45" stroke-width="0.7"/>
<ellipse cx="810.4" cy="169.6" rx="6.5" ry="0.9" fill="#ffff00" stroke="#737300" stroke-opacity="0.7" stroke-width="0.7"/>
<path d="M576.2 747.1 L587.9 747.1 L591.4 955.4 A5.6 2.6 0 0 1 580.1 955.4 Z" fill="url(#g95)" stroke="#fff" stroke-opacity="0.85" stroke-width="1.4"/>
<ellipse cx="585.8" cy="955.4" rx="5.1" ry="2.6" fill="#000" fill-opacity="0.12" stroke="#222" stroke-opacity="0.45" stroke-width="0.7"/>
<ellipse cx="582" cy="747.1" rx="5.9" ry="2.2" fill="#00ff00" stroke="#007300" stroke-opacity="0.7" stroke-width="0.7"/>
<path d="M589.8 721.2 L601.7 721.2 L605.5 963 A5.7 2.6 0 0 1 594.1 963 Z" fill="url(#g96)" stroke="#fff" stroke-opacity="0.85" stroke-width="1.4"/>
<ellipse cx="599.8" cy="963" rx="5.2" ry="2.6" fill="#000" fill-opacity="0.12" stroke="#222" stroke-opacity="0.45" stroke-width="0.7"/>
<ellipse cx="595.8" cy="721.2" rx="5.9" ry="2.1" fill="#00ff00" stroke="#007300" stroke-opacity="0.7" stroke-width="0.7"/>
<path d="M603.5 681 L615.6 681 L619.7 970.7 A5.7 2.6 0 0 1 608.3 970.7 Z" fill="url(#g97)" stroke="#fff" stroke-opacity="0.85" stroke-width="1.4"/>
<ellipse cx="614" cy="970.7" rx="5.2" ry="2.6" fill="#000" fill-opacity="0.12" stroke="#222" stroke-opacity="0.45" stroke-width="0.7"/>
<ellipse cx="609.6" cy="681" rx="6" ry="2" fill="#00ff00" stroke="#007300" stroke-opacity="0.7" stroke-width="0.7"/>
<path d="M617.2 620.7 L629.5 620.7 L634.1 978.6 A5.7 2.6 0 0 1 622.6 978.6 Z" fill="url(#g98)" stroke="#fff" stroke-opacity="0.85" stroke-width="1.4"/>
<ellipse cx="628.3" cy="978.6" rx="5.2" ry="2.6" fill="#000" fill-opacity="0.12" stroke="#222" stroke-opacity="0.45" stroke-width="0.7"/>
<ellipse cx="623.3" cy="620.7" rx="6.1" ry="1.9" fill="#00ff00" stroke="#007300" stroke-opacity="0.7" stroke-width="0.7"/>
<path d="M631.4 575.4 L643.9 575.4 L648.6 986.5 A5.8 2.7 0 0 1 637.1 986.5 Z" fill="url(#g99)" stroke="#fff" stroke-opacity="0.85" stroke-width="1.4"/>
<ellipse cx="642.8" cy="986.5" rx="5.3" ry="2.7" fill="#000" fill-opacity="0.12" stroke="#222" stroke-opacity="0.45" stroke-width="0.7"/>
<ellipse cx="637.7" cy="575.4" rx="6.2" ry="1.8" fill="#00ff00" stroke="#007300" stroke-opacity="0.7" stroke-width="0.7"/>
<g opacity="0.6">
<path d="M630.6 778.5 L641.4 778.5 L642.5 869.7 A5.3 2.4 0 0 1 631.9 869.7 Z" fill="url(#g100)"/>
<ellipse cx="637.2" cy="869.7" rx="4.8" ry="2.4" fill="#000" fill-opacity="0.12" stroke="#222" stroke-opacity="0.45" stroke-width="0.7"/>
<ellipse cx="636" cy="778.5" rx="5.4" ry="2.3" fill="#ffff00" stroke="#737300" stroke-opacity="0.7" stroke-width="0.7"/>
</g>
<path d="M645 449.3 L657.8 449.3 L663.3 994.5 A5.8 2.7 0 0 1 651.7 994.5 Z" fill="url(#g101)" stroke="#fff" stroke-opacity="0.85" stroke-width="1.4"/>
<ellipse cx="657.5" cy="994.5" rx="5.3" ry="2.7" fill="#000" fill-opacity="0.12" stroke="#222" stroke-opacity="0.45" stroke-width="0.7"/>
<ellipse cx="651.4" cy="449.3" rx="6.4" ry="1.5" fill="#00ff00" stroke="#007300" stroke-opacity="0.7" stroke-width="0.7"/>
<g opacity="0.6">
<path d="M657.6 775.5 L668.6 775.5 L669.6 883.3 A5.4 2.5 0 0 1 658.9 883.3 Z" fill="url(#g102)"/>
<ellipse cx="664.2" cy="883.3" rx="4.9" ry="2.5" fill="#000" fill-opacity="0.12" stroke="#222" stroke-opacity="0.45" stroke-width="0.7"/>
<ellipse cx="663.1" cy="775.5" rx="5.5" ry="2.3" fill="#ffff00" stroke="#737300" stroke-opacity="0.7" stroke-width="0.7"/>
</g>
<path d="M658.9 298.8 L672.1 298.8 L678.1 1002.5 A5.8 2.7 0 0 1 666.5 1002.5 Z" fill="url(#g103)" stroke="#fff" stroke-opacity="0.85" stroke-width="1.4"/>
<ellipse cx="672.3" cy="1002.5" rx="5.3" ry="2.7" fill="#000" fill-opacity="0.12" stroke="#222" stroke-opacity="0.45" stroke-width="0.7"/>
<ellipse cx="665.5" cy="298.8" rx="6.6" ry="1.2" fill="#00ff00" stroke="#007300" stroke-opacity="0.7" stroke-width="0.7"/>
<line x1="113.5" y1="105.7" x2="571.1" y2="228.5" stroke="#555" stroke-width="1.2" stroke-dasharray="1.6 2.6" fill="none"/>
<line x1="571.1" y1="228.5" x2="1478.8" y2="86.1" stroke="#555" stroke-width="1.2" stroke-dasharray="1.6 2.6" fill="none"/>
<line x1="571.1" y1="228.5" x2="585.3" y2="1088.1" stroke="#555" stroke-width="1.2" stroke-dasharray="1.6 2.6" fill="none"/>
<polyline points="113.5,105.7 152.6,830 585.3,1088.1 1437.1,781.9" fill="none" stroke="#000" stroke-width="2.8" stroke-linejoin="miter"/>
<line x1="154.5" y1="829.2" x2="167.5" y2="825.7" stroke="#000" stroke-width="2" stroke-linecap="butt"/>
<line x1="150.7" y1="761" x2="158.4" y2="759" stroke="#000" stroke-width="2" stroke-linecap="butt"/>
<line x1="146.8" y1="691.9" x2="159.9" y2="688.7" stroke="#000" stroke-width="2" stroke-linecap="butt"/>
<line x1="142.9" y1="621.9" x2="150.7" y2="620.1" stroke="#000" stroke-width="2" stroke-linecap="butt"/>
<line x1="138.9" y1="551" x2="152.1" y2="548.2" stroke="#000" stroke-width="2" stroke-linecap="butt"/>
<line x1="134.9" y1="479.2" x2="142.7" y2="477.6" stroke="#000" stroke-width="2" stroke-linecap="butt"/>
<line x1="130.8" y1="406.4" x2="144.1" y2="404" stroke="#000" stroke-width="2" stroke-linecap="butt"/>
<line x1="126.7" y1="332.6" x2="134.5" y2="331.3" stroke="#000" stroke-width="2" stroke-linecap="butt"/>
<line x1="122.5" y1="257.9" x2="135.8" y2="255.9" stroke="#000" stroke-width="2" stroke-linecap="butt"/>
<line x1="118.2" y1="182.2" x2="126.1" y2="181.1" stroke="#000" stroke-width="2" stroke-linecap="butt"/>
<line x1="113.9" y1="105.4" x2="127.3" y2="103.8" stroke="#000" stroke-width="2" stroke-linecap="butt"/>
<line x1="528.1" y1="1051.9" x2="540.8" y2="1047.5" stroke="#000" stroke-width="2" stroke-linecap="butt"/>
<line x1="457.2" y1="1009.7" x2="464.8" y2="1007.2" stroke="#000" stroke-width="2" stroke-linecap="butt"/>
<line x1="390.1" y1="969.7" x2="403" y2="965.6" stroke="#000" stroke-width="2" stroke-linecap="butt"/>
<line x1="326.6" y1="931.8" x2="334.2" y2="929.5" stroke="#000" stroke-width="2" stroke-linecap="butt"/>
<line x1="266.3" y1="895.9" x2="279.2" y2="892.1" stroke="#000" stroke-width="2" stroke-linecap="butt"/>
<line x1="209" y1="861.7" x2="216.7" y2="859.6" stroke="#000" stroke-width="2" stroke-linecap="butt"/>
<line x1="154.5" y1="829.2" x2="167.5" y2="825.7" stroke="#000" stroke-width="2" stroke-linecap="butt"/>
<line x1="659.1" y1="1059" x2="653" y2="1055.6" stroke="#000" stroke-width="2" stroke-linecap="butt"/>
<line x1="730.9" y1="1033.3" x2="719.9" y2="1027.3" stroke="#000" stroke-width="2" stroke-linecap="butt"/>
<line x1="800.3" y1="1008.4" x2="794.1" y2="1005.2" stroke="#000" stroke-width="2" stroke-linecap="butt"/>
<line x1="867.5" y1="984.3" x2="856.3" y2="978.7" stroke="#000" stroke-width="2" stroke-linecap="butt"/>
<line x1="932.4" y1="961" x2="926.1" y2="958" stroke="#000" stroke-width="2" stroke-linecap="butt"/>
<line x1="995.3" y1="938.5" x2="984" y2="933.2" stroke="#000" stroke-width="2" stroke-linecap="butt"/>
<line x1="1056.2" y1="916.7" x2="1049.8" y2="913.8" stroke="#000" stroke-width="2" stroke-linecap="butt"/>
<line x1="1115.2" y1="895.5" x2="1103.8" y2="890.5" stroke="#000" stroke-width="2" stroke-linecap="butt"/>
<line x1="1172.4" y1="875" x2="1166" y2="872.3" stroke="#000" stroke-width="2" stroke-linecap="butt"/>
<line x1="1228" y1="855.1" x2="1216.4" y2="850.4" stroke="#000" stroke-width="2" stroke-linecap="butt"/>
<line x1="1281.8" y1="835.8" x2="1275.3" y2="833.2" stroke="#000" stroke-width="2" stroke-linecap="butt"/>
<line x1="1334.1" y1="817" x2="1322.4" y2="812.6" stroke="#000" stroke-width="2" stroke-linecap="butt"/>
<line x1="1384.9" y1="798.8" x2="1378.3" y2="796.4" stroke="#000" stroke-width="2" stroke-linecap="butt"/>
<line x1="1434.3" y1="781.1" x2="1422.5" y2="776.9" stroke="#000" stroke-width="2" stroke-linecap="butt"/>
<text transform="matrix(0.9942 -0.1080 0.1080 0.9942 400 147)" font-size="37" text-anchor="middle" fill="#000">Crossing deviatoric stress</text>
<text transform="matrix(0.9942 -0.1080 0.1080 0.9942 405 190.5)" font-size="37" text-anchor="middle" fill="#000">peak zone</text>
<text transform="matrix(0.9903 -0.1392 0.1392 0.9903 873.7 72.6)" font-size="37" text-anchor="middle" fill="#ff0000">Not crossing deviatoric</text>
<text transform="matrix(0.9903 -0.1392 0.1392 0.9903 880 115.8)" font-size="37" text-anchor="middle" fill="#ff0000">stress peak zone</text>
<text transform="matrix(0.9651 -0.2620 0.2620 0.9651 117.7 851.8)" font-size="31.5" text-anchor="middle" fill="#000">150</text>
<text transform="matrix(0.9720 -0.2351 0.2351 0.9720 107.8 710)" font-size="31.5" text-anchor="middle" fill="#000">200</text>
<text transform="matrix(0.9783 -0.2072 0.2072 0.9783 99.6 569.2)" font-size="31.5" text-anchor="middle" fill="#000">250</text>
<text transform="matrix(0.9840 -0.1780 0.1780 0.9840 91.1 424.6)" font-size="31.5" text-anchor="middle" fill="#000">300</text>
<text transform="matrix(0.9890 -0.1477 0.1477 0.9890 82.5 276.2)" font-size="31.5" text-anchor="middle" fill="#000">350</text>
<text transform="matrix(0.9932 -0.1162 0.1162 0.9932 73.6 123.7)" font-size="31.5" text-anchor="middle" fill="#000">400</text>
<text transform="matrix(0.0540 0.9985 -0.9361 0.1991 18.1 381.5)" font-size="44.4" text-anchor="middle" fill="#000">Forces</text>
<text transform="matrix(0.0540 0.9985 -0.9555 0.2032 23.3 468)" font-size="43.5" text-anchor="middle" fill="#000">of</text>
<text transform="matrix(0.0540 0.9985 -0.9803 0.2085 27.4 536.5)" font-size="42.4" text-anchor="middle" fill="#000">bolts</text>
<text transform="matrix(0.0540 0.9985 -1.0340 0.2199 33 630.6)" font-size="40.2" text-anchor="middle" fill="#000">(KN)</text>
<text transform="matrix(0.9379 -0.3469 0.8430 0.5066 759.4 1052.8)" font-size="30.5" text-anchor="middle" fill="#000">M1</text>
<text transform="matrix(0.9379 -0.3469 0.8430 0.5066 896 1003.8)" font-size="30.5" text-anchor="middle" fill="#000">M2</text>
<text transform="matrix(0.9379 -0.3469 0.8430 0.5066 1023.8 958)" font-size="30.5" text-anchor="middle" fill="#000">M3</text>
<text transform="matrix(0.9379 -0.3469 0.8430 0.5066 1143.7 915)" font-size="30.5" text-anchor="middle" fill="#000">M4</text>
<text transform="matrix(0.9379 -0.3469 0.8430 0.5066 1256.5 874.6)" font-size="30.5" text-anchor="middle" fill="#000">M5</text>
<text transform="matrix(0.9379 -0.3469 0.8430 0.5066 1362.6 836.5)" font-size="30.5" text-anchor="middle" fill="#000">M6</text>
<text transform="matrix(0.9379 -0.3469 0.8154 0.4900 1104 983.5)" font-size="35" text-anchor="middle" fill="#000">Anchor cable</text>
<text transform="matrix(0.9379 -0.3469 0.7284 0.4377 519.1 1061.9)" font-size="30" text-anchor="end" fill="#000">50</text>
<text transform="matrix(0.9379 -0.3469 0.7284 0.4377 381.1 979.7)" font-size="30" text-anchor="end" fill="#000">100</text>
<text transform="matrix(0.9379 -0.3469 0.7284 0.4377 257.3 905.9)" font-size="30" text-anchor="end" fill="#000">150</text>
<text transform="matrix(0.9379 -0.3469 0.7284 0.4377 145.5 837.2)" font-size="30" text-anchor="end" fill="#000">200</text>
<text transform="matrix(0.8517 0.5240 -1.3087 0.4506 245.3 983.9)" font-size="28.9" text-anchor="middle" fill="#000">Distance of working face</text>
<text transform="matrix(0.8517 0.5240 -1.3087 0.4506 198.8 1002.9)" font-size="28.9" text-anchor="middle" fill="#000">from monitoring station (m)</text>
<path d="M203.9 369.2 L219.9 369.2 L226.7 467.9 A8 2.6 0 0 1 210.7 467.9 Z" fill="#00ff00"/>
<ellipse cx="211.9" cy="369.2" rx="8" ry="2.6" fill="#00ff00" stroke="#007300" stroke-opacity="0.6" stroke-width="0.7"/>
<text transform="matrix(1.0000 0.0000 0.0000 1.1600 212.7 507.5)" font-size="32.5" text-anchor="middle" fill="#000">M1</text>
<path d="M263.4 390.4 L279.4 390.4 L284.6 489.3 A8 2.6 0 0 1 268.6 489.3 Z" fill="#ffff00"/>
<ellipse cx="271.4" cy="390.4" rx="8" ry="2.6" fill="#ffff00" stroke="#737300" stroke-opacity="0.6" stroke-width="0.7"/>
<text transform="matrix(1.0000 0.0000 0.0000 1.1600 272 530.9)" font-size="32.5" text-anchor="middle" fill="#000">M2</text>
<path d="M322.9 411 L338.9 411 L342.8 510.1 A8 2.6 0 0 1 326.8 510.1 Z" fill="#0000ff"/>
<ellipse cx="330.9" cy="411" rx="8" ry="2.6" fill="#0000ff" stroke="#000073" stroke-opacity="0.6" stroke-width="0.7"/>
<text transform="matrix(1.0000 0.0000 0.0000 1.1600 331.3 554.3)" font-size="32.5" text-anchor="middle" fill="#000">M3</text>
<path d="M382.6 432.6 L398.6 432.6 L400.2 531.8 A8 2.6 0 0 1 384.2 531.8 Z" fill="#ff00ff"/>
<ellipse cx="390.6" cy="432.6" rx="8" ry="2.6" fill="#ff00ff" stroke="#730073" stroke-opacity="0.6" stroke-width="0.7"/>
<text transform="matrix(1.0000 0.0000 0.0000 1.1600 390.6 577.7)" font-size="32.5" text-anchor="middle" fill="#000">M4</text>
<path d="M442 454.5 L458 454.5 L459.5 553 A8 2.6 0 0 1 443.5 553 Z" fill="#00ffff"/>
<ellipse cx="450" cy="454.5" rx="8" ry="2.6" fill="#00ffff" stroke="#007373" stroke-opacity="0.6" stroke-width="0.7"/>
<text transform="matrix(1.0000 0.0000 0.0000 1.1600 449.9 601.1)" font-size="32.5" text-anchor="middle" fill="#000">M5</text>
<path d="M501 476 L517 476 L518 574.5 A8 2.6 0 0 1 502 574.5 Z" fill="#800000"/>
<ellipse cx="509" cy="476" rx="8" ry="2.6" fill="#800000" stroke="#3a0000" stroke-opacity="0.6" stroke-width="0.7"/>
<text transform="matrix(1.0000 0.0000 0.0000 1.1600 509.2 624.5)" font-size="32.5" text-anchor="middle" fill="#000">M6</text>
<line x1="489" y1="172.3" x2="640.6" y2="283.9" stroke="#111" stroke-width="2.1" stroke-dasharray="9 7.3"/>
<polygon points="655.5,294.9 626.8,284.9 640.6,283.9 637.5,270.5" fill="#111"/>
<line x1="489" y1="172.3" x2="787.3" y2="197.7" stroke="#111" stroke-width="2.1" stroke-dasharray="9 7.3"/>
<polygon points="805.8,199.3 776.1,205.8 787.3,197.7 777.7,187.9" fill="#111"/>
<line x1="489" y1="172.3" x2="921.6" y2="249.8" stroke="#111" stroke-width="2.1" stroke-dasharray="9 7.3"/>
<polygon points="939.9,253.1 909.8,256.8 921.6,249.8 912.9,239.1" fill="#111"/>
<line x1="489" y1="172.3" x2="1157.8" y2="328.3" stroke="#111" stroke-width="2.1" stroke-dasharray="9 7.3"/>
<polygon points="1175.9,332.5 1145.6,334.7 1157.8,328.3 1149.7,317.2" fill="#111"/>
<line x1="489" y1="172.3" x2="1278.7" y2="126.5" stroke="#111" stroke-width="2.1" stroke-dasharray="9 7.3"/>
<polygon points="1297.2,125.4 1268.8,136.1 1278.7,126.5 1267.7,118.1" fill="#111"/>
<line x1="953.8" y1="126.8" x2="1043.9" y2="604.9" stroke="#ff0000" stroke-width="2" stroke-dasharray="9 7"/>
<polygon points="1047.4,623.5 1033,596.2 1043.9,604.9 1050.9,592.8" fill="#ff0000"/>
</svg>
</body></html>
